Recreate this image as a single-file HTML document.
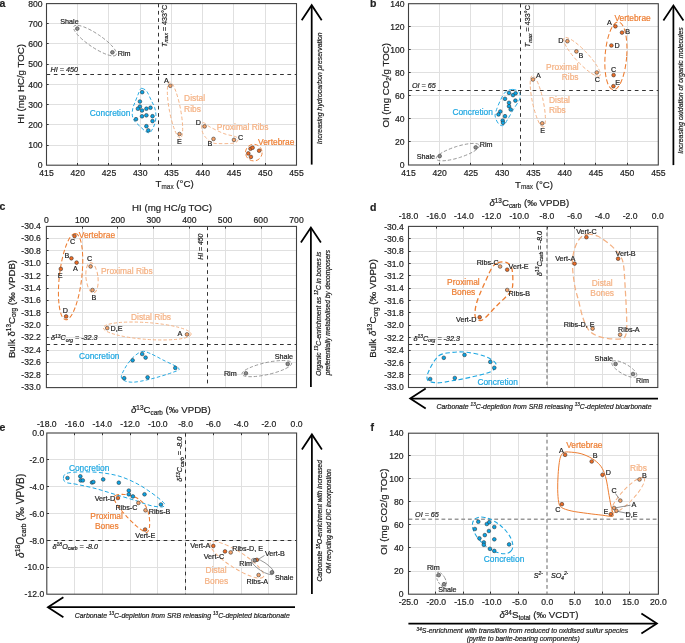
<!DOCTYPE html>
<html><head><meta charset="utf-8"><style>
html,body{margin:0;padding:0;background:#fff;width:685px;height:643px;overflow:hidden}
svg{display:block;font-family:"Liberation Sans", sans-serif;will-change:transform}
</style></head><body>
<svg width="685" height="643" viewBox="0 0 685 643">

<line x1="77.50" y1="3.60" x2="77.50" y2="165.20" stroke="#e0e0e0" stroke-width="1" stroke-linecap="butt"/>
<line x1="108.50" y1="3.60" x2="108.50" y2="165.20" stroke="#e0e0e0" stroke-width="1" stroke-linecap="butt"/>
<line x1="140.50" y1="3.60" x2="140.50" y2="165.20" stroke="#e0e0e0" stroke-width="1" stroke-linecap="butt"/>
<line x1="171.50" y1="3.60" x2="171.50" y2="165.20" stroke="#e0e0e0" stroke-width="1" stroke-linecap="butt"/>
<line x1="202.50" y1="3.60" x2="202.50" y2="165.20" stroke="#e0e0e0" stroke-width="1" stroke-linecap="butt"/>
<line x1="233.50" y1="3.60" x2="233.50" y2="165.20" stroke="#e0e0e0" stroke-width="1" stroke-linecap="butt"/>
<line x1="265.50" y1="3.60" x2="265.50" y2="165.20" stroke="#e0e0e0" stroke-width="1" stroke-linecap="butt"/>
<line x1="46.50" y1="145.50" x2="296.50" y2="145.50" stroke="#e0e0e0" stroke-width="1" stroke-linecap="butt"/>
<line x1="46.50" y1="124.50" x2="296.50" y2="124.50" stroke="#e0e0e0" stroke-width="1" stroke-linecap="butt"/>
<line x1="46.50" y1="104.50" x2="296.50" y2="104.50" stroke="#e0e0e0" stroke-width="1" stroke-linecap="butt"/>
<line x1="46.50" y1="84.50" x2="296.50" y2="84.50" stroke="#e0e0e0" stroke-width="1" stroke-linecap="butt"/>
<line x1="46.50" y1="64.50" x2="296.50" y2="64.50" stroke="#e0e0e0" stroke-width="1" stroke-linecap="butt"/>
<line x1="46.50" y1="43.50" x2="296.50" y2="43.50" stroke="#e0e0e0" stroke-width="1" stroke-linecap="butt"/>
<line x1="46.50" y1="23.50" x2="296.50" y2="23.50" stroke="#e0e0e0" stroke-width="1" stroke-linecap="butt"/>
<text x="46.50" y="175.60" font-size="8.6" fill="#222" text-anchor="middle" stroke="#222" stroke-width="0.2"><tspan>415</tspan></text>
<text x="77.75" y="175.60" font-size="8.6" fill="#222" text-anchor="middle" stroke="#222" stroke-width="0.2"><tspan>420</tspan></text>
<text x="109.00" y="175.60" font-size="8.6" fill="#222" text-anchor="middle" stroke="#222" stroke-width="0.2"><tspan>425</tspan></text>
<text x="140.25" y="175.60" font-size="8.6" fill="#222" text-anchor="middle" stroke="#222" stroke-width="0.2"><tspan>430</tspan></text>
<text x="171.50" y="175.60" font-size="8.6" fill="#222" text-anchor="middle" stroke="#222" stroke-width="0.2"><tspan>435</tspan></text>
<text x="202.75" y="175.60" font-size="8.6" fill="#222" text-anchor="middle" stroke="#222" stroke-width="0.2"><tspan>440</tspan></text>
<text x="234.00" y="175.60" font-size="8.6" fill="#222" text-anchor="middle" stroke="#222" stroke-width="0.2"><tspan>445</tspan></text>
<text x="265.25" y="175.60" font-size="8.6" fill="#222" text-anchor="middle" stroke="#222" stroke-width="0.2"><tspan>450</tspan></text>
<text x="296.50" y="175.60" font-size="8.6" fill="#222" text-anchor="middle" stroke="#222" stroke-width="0.2"><tspan>455</tspan></text>
<text x="42.60" y="168.30" font-size="8.6" fill="#222" text-anchor="end" stroke="#222" stroke-width="0.2"><tspan>0</tspan></text>
<text x="42.60" y="148.10" font-size="8.6" fill="#222" text-anchor="end" stroke="#222" stroke-width="0.2"><tspan>100</tspan></text>
<text x="42.60" y="127.90" font-size="8.6" fill="#222" text-anchor="end" stroke="#222" stroke-width="0.2"><tspan>200</tspan></text>
<text x="42.60" y="107.70" font-size="8.6" fill="#222" text-anchor="end" stroke="#222" stroke-width="0.2"><tspan>300</tspan></text>
<text x="42.60" y="87.50" font-size="8.6" fill="#222" text-anchor="end" stroke="#222" stroke-width="0.2"><tspan>400</tspan></text>
<text x="42.60" y="67.30" font-size="8.6" fill="#222" text-anchor="end" stroke="#222" stroke-width="0.2"><tspan>500</tspan></text>
<text x="42.60" y="47.10" font-size="8.6" fill="#222" text-anchor="end" stroke="#222" stroke-width="0.2"><tspan>600</tspan></text>
<text x="42.60" y="26.90" font-size="8.6" fill="#222" text-anchor="end" stroke="#222" stroke-width="0.2"><tspan>700</tspan></text>
<text x="42.60" y="6.70" font-size="8.6" fill="#222" text-anchor="end" stroke="#222" stroke-width="0.2"><tspan>800</tspan></text>
<text x="24.00" y="83.90" font-size="9.7" fill="#222" text-anchor="middle" transform="rotate(-90 24.00 83.90)" stroke="#222" stroke-width="0.2"><tspan>HI (mg HC/g TOC)</tspan></text>
<text x="155.6" y="187.3" font-size="9.7" fill="#222" stroke="#222" stroke-width="0.2">T<tspan font-size="6.4" dy="1.6" fill="#555">max</tspan><tspan dy="-1.6"> (°C)</tspan></text>
<text x="-0.60" y="6.90" font-size="10.5" fill="#222" text-anchor="start" font-weight="bold" stroke="#222" stroke-width="0.2"><tspan>a</tspan></text>
<line x1="46.50" y1="74.50" x2="296.50" y2="74.50" stroke="#333" stroke-width="1" stroke-dasharray="3.7,3.6" stroke-linecap="butt"/>
<line x1="158.50" y1="3.60" x2="158.50" y2="165.20" stroke="#333" stroke-width="1" stroke-dasharray="3.7,3.6" stroke-linecap="butt"/>
<text x="50.60" y="72.00" font-size="7.2" fill="#222" text-anchor="start" font-style="italic" stroke="#222" stroke-width="0.2"><tspan>HI = 450</tspan></text>
<text x="167.0" y="25.9" font-size="7.2" fill="#222" text-anchor="middle" transform="rotate(-90 167.0 25.9)" stroke="#222" stroke-width="0.2"><tspan font-style="italic">T</tspan><tspan font-style="italic" font-size="5" dy="1.2">max</tspan><tspan dy="-1.2"> = 433°C</tspan></text>
<ellipse cx="95.00" cy="40.60" rx="25.50" ry="6.80" transform="rotate(34.00 95.00 40.60)" fill="none" stroke="#8a8a8a" stroke-width="0.8" stroke-dasharray="3.4,2"/>
<path d="M142.20,88.40 C143.30,88.72 145.28,89.38 146.80,91.40 C148.32,93.42 150.00,97.82 151.30,100.50 C152.60,103.18 153.83,105.17 154.60,107.50 C155.37,109.83 155.77,112.17 155.90,114.50 C156.03,116.83 155.82,119.38 155.40,121.50 C154.98,123.62 154.33,125.35 153.40,127.20 C152.47,129.05 151.10,131.90 149.80,132.60 C148.50,133.30 147.30,132.50 145.60,131.40 C143.90,130.30 141.50,127.80 139.60,126.00 C137.70,124.20 135.42,122.40 134.20,120.60 C132.98,118.80 132.53,117.25 132.30,115.20 C132.07,113.15 132.32,110.53 132.80,108.30 C133.28,106.07 134.30,104.15 135.20,101.80 C136.10,99.45 137.37,96.25 138.20,94.20 C139.03,92.15 139.53,90.47 140.20,89.50 C140.87,88.53 141.10,88.08 142.20,88.40Z" fill="none" stroke="#1ea7e1" stroke-width="0.95" stroke-dasharray="3.5,2.2"/>
<ellipse cx="175.00" cy="110.00" rx="28.50" ry="5.60" transform="rotate(79.20 175.00 110.00)" fill="none" stroke="#f4b183" stroke-width="0.9" stroke-dasharray="3.5,2.2"/>
<path d="M203.00,122.60 C204.37,122.27 206.50,125.17 210.00,127.00 C213.50,128.83 219.62,131.93 224.00,133.60 C228.38,135.27 234.05,135.77 236.30,137.00 C238.55,138.23 238.05,139.97 237.50,141.00 C236.95,142.03 235.75,142.77 233.00,143.20 C230.25,143.63 224.50,143.70 221.00,143.60 C217.50,143.50 214.75,143.87 212.00,142.60 C209.25,141.33 206.20,138.27 204.50,136.00 C202.80,133.73 202.05,131.23 201.80,129.00 C201.55,126.77 201.63,122.93 203.00,122.60Z" fill="none" stroke="#f4b183" stroke-width="0.9" stroke-dasharray="3.5,2.2"/>
<ellipse cx="253.80" cy="152.60" rx="8.30" ry="8.30" transform="rotate(0.00 253.80 152.60)" fill="none" stroke="#ed7d31" stroke-width="0.9" stroke-dasharray="4.2,2.4"/>
<circle cx="77.30" cy="28.60" r="1.85" fill="#8c8c8c" stroke="#303030" stroke-width="0.55"/>
<circle cx="112.40" cy="52.30" r="1.85" fill="#8c8c8c" stroke="#303030" stroke-width="0.55"/>
<circle cx="142.20" cy="92.20" r="1.85" fill="#0aa3e4" stroke="#303030" stroke-width="0.55"/>
<circle cx="139.90" cy="101.50" r="1.85" fill="#0aa3e4" stroke="#303030" stroke-width="0.55"/>
<circle cx="139.90" cy="106.60" r="1.85" fill="#0aa3e4" stroke="#303030" stroke-width="0.55"/>
<circle cx="137.90" cy="108.70" r="1.85" fill="#0aa3e4" stroke="#303030" stroke-width="0.55"/>
<circle cx="142.00" cy="110.50" r="1.85" fill="#0aa3e4" stroke="#303030" stroke-width="0.55"/>
<circle cx="146.40" cy="108.70" r="1.85" fill="#0aa3e4" stroke="#303030" stroke-width="0.55"/>
<circle cx="150.50" cy="107.70" r="1.85" fill="#0aa3e4" stroke="#303030" stroke-width="0.55"/>
<circle cx="142.00" cy="116.30" r="1.85" fill="#0aa3e4" stroke="#303030" stroke-width="0.55"/>
<circle cx="146.40" cy="115.30" r="1.85" fill="#0aa3e4" stroke="#303030" stroke-width="0.55"/>
<circle cx="152.50" cy="116.20" r="1.85" fill="#0aa3e4" stroke="#303030" stroke-width="0.55"/>
<circle cx="136.00" cy="119.20" r="1.85" fill="#0aa3e4" stroke="#303030" stroke-width="0.55"/>
<circle cx="152.50" cy="121.10" r="1.85" fill="#0aa3e4" stroke="#303030" stroke-width="0.55"/>
<circle cx="146.40" cy="126.20" r="1.85" fill="#0aa3e4" stroke="#303030" stroke-width="0.55"/>
<circle cx="148.30" cy="130.40" r="1.85" fill="#0aa3e4" stroke="#303030" stroke-width="0.55"/>
<circle cx="170.30" cy="85.80" r="1.85" fill="#f4a46c" stroke="#303030" stroke-width="0.55"/>
<circle cx="179.50" cy="134.00" r="1.85" fill="#f4a46c" stroke="#303030" stroke-width="0.55"/>
<circle cx="204.60" cy="126.40" r="1.85" fill="#f4a46c" stroke="#303030" stroke-width="0.55"/>
<circle cx="213.50" cy="138.90" r="1.85" fill="#f4a46c" stroke="#303030" stroke-width="0.55"/>
<circle cx="234.00" cy="139.90" r="1.85" fill="#f4a46c" stroke="#303030" stroke-width="0.55"/>
<circle cx="250.50" cy="148.70" r="1.85" fill="#eb6c26" stroke="#303030" stroke-width="0.55"/>
<circle cx="252.60" cy="147.70" r="1.85" fill="#eb6c26" stroke="#303030" stroke-width="0.55"/>
<circle cx="259.10" cy="150.70" r="1.85" fill="#eb6c26" stroke="#303030" stroke-width="0.55"/>
<circle cx="248.30" cy="153.40" r="1.85" fill="#eb6c26" stroke="#303030" stroke-width="0.55"/>
<circle cx="250.90" cy="156.90" r="1.85" fill="#eb6c26" stroke="#303030" stroke-width="0.55"/>
<text x="69.50" y="24.00" font-size="7.2" fill="#222" text-anchor="middle" stroke="#222" stroke-width="0.2"><tspan>Shale</tspan></text>
<text x="117.70" y="56.40" font-size="7.2" fill="#222" text-anchor="start" stroke="#222" stroke-width="0.2"><tspan>Rim</tspan></text>
<text x="89.80" y="115.60" font-size="8.4" fill="#1ea7e1" text-anchor="start" stroke="#1ea7e1" stroke-width="0.2"><tspan>Concretion</tspan></text>
<text x="166.30" y="82.60" font-size="7.2" fill="#222" text-anchor="middle" stroke="#222" stroke-width="0.2"><tspan>A</tspan></text>
<text x="179.50" y="143.70" font-size="7.2" fill="#222" text-anchor="middle" stroke="#222" stroke-width="0.2"><tspan>E</tspan></text>
<text x="184.10" y="101.00" font-size="8.4" fill="#f4b183" text-anchor="start" stroke="#f4b183" stroke-width="0.2"><tspan>Distal</tspan></text>
<text x="184.10" y="111.80" font-size="8.4" fill="#f4b183" text-anchor="start" stroke="#f4b183" stroke-width="0.2"><tspan>Ribs</tspan></text>
<text x="198.40" y="124.50" font-size="7.2" fill="#222" text-anchor="middle" stroke="#222" stroke-width="0.2"><tspan>D</tspan></text>
<text x="209.90" y="146.20" font-size="7.2" fill="#222" text-anchor="middle" stroke="#222" stroke-width="0.2"><tspan>B</tspan></text>
<text x="240.70" y="139.60" font-size="7.2" fill="#222" text-anchor="middle" stroke="#222" stroke-width="0.2"><tspan>C</tspan></text>
<text x="216.80" y="130.20" font-size="8.4" fill="#f4b183" text-anchor="start" stroke="#f4b183" stroke-width="0.2"><tspan>Proximal Ribs</tspan></text>
<text x="258.10" y="144.50" font-size="8.4" fill="#ed7d31" text-anchor="start" stroke="#ed7d31" stroke-width="0.2"><tspan>Vertebrae</tspan></text>
<line x1="311.70" y1="164.60" x2="311.70" y2="6.00" stroke="#000" stroke-width="1.75" stroke-linecap="butt"/>
<polyline points="301.70,20.20 311.70,5.20 321.70,20.20" fill="none" stroke="#000" stroke-width="1.75" stroke-linejoin="miter" stroke-miterlimit="10"/>
<text x="321.60" y="88.20" font-size="6.9" fill="#222" text-anchor="middle" font-style="italic" transform="rotate(-90 321.60 88.20)" stroke="#222" stroke-width="0.2"><tspan>Increasing hydrocarbon preservation</tspan></text>
<line x1="439.50" y1="3.70" x2="439.50" y2="165.00" stroke="#e0e0e0" stroke-width="1" stroke-linecap="butt"/>
<line x1="470.50" y1="3.70" x2="470.50" y2="165.00" stroke="#e0e0e0" stroke-width="1" stroke-linecap="butt"/>
<line x1="502.50" y1="3.70" x2="502.50" y2="165.00" stroke="#e0e0e0" stroke-width="1" stroke-linecap="butt"/>
<line x1="533.50" y1="3.70" x2="533.50" y2="165.00" stroke="#e0e0e0" stroke-width="1" stroke-linecap="butt"/>
<line x1="564.50" y1="3.70" x2="564.50" y2="165.00" stroke="#e0e0e0" stroke-width="1" stroke-linecap="butt"/>
<line x1="595.50" y1="3.70" x2="595.50" y2="165.00" stroke="#e0e0e0" stroke-width="1" stroke-linecap="butt"/>
<line x1="627.50" y1="3.70" x2="627.50" y2="165.00" stroke="#e0e0e0" stroke-width="1" stroke-linecap="butt"/>
<line x1="408.50" y1="141.50" x2="658.30" y2="141.50" stroke="#e0e0e0" stroke-width="1" stroke-linecap="butt"/>
<line x1="408.50" y1="118.50" x2="658.30" y2="118.50" stroke="#e0e0e0" stroke-width="1" stroke-linecap="butt"/>
<line x1="408.50" y1="95.50" x2="658.30" y2="95.50" stroke="#e0e0e0" stroke-width="1" stroke-linecap="butt"/>
<line x1="408.50" y1="72.50" x2="658.30" y2="72.50" stroke="#e0e0e0" stroke-width="1" stroke-linecap="butt"/>
<line x1="408.50" y1="49.50" x2="658.30" y2="49.50" stroke="#e0e0e0" stroke-width="1" stroke-linecap="butt"/>
<line x1="408.50" y1="26.50" x2="658.30" y2="26.50" stroke="#e0e0e0" stroke-width="1" stroke-linecap="butt"/>
<text x="408.50" y="175.60" font-size="8.6" fill="#222" text-anchor="middle" stroke="#222" stroke-width="0.2"><tspan>415</tspan></text>
<text x="439.73" y="175.60" font-size="8.6" fill="#222" text-anchor="middle" stroke="#222" stroke-width="0.2"><tspan>420</tspan></text>
<text x="470.95" y="175.60" font-size="8.6" fill="#222" text-anchor="middle" stroke="#222" stroke-width="0.2"><tspan>425</tspan></text>
<text x="502.17" y="175.60" font-size="8.6" fill="#222" text-anchor="middle" stroke="#222" stroke-width="0.2"><tspan>430</tspan></text>
<text x="533.40" y="175.60" font-size="8.6" fill="#222" text-anchor="middle" stroke="#222" stroke-width="0.2"><tspan>435</tspan></text>
<text x="564.62" y="175.60" font-size="8.6" fill="#222" text-anchor="middle" stroke="#222" stroke-width="0.2"><tspan>440</tspan></text>
<text x="595.85" y="175.60" font-size="8.6" fill="#222" text-anchor="middle" stroke="#222" stroke-width="0.2"><tspan>445</tspan></text>
<text x="627.07" y="175.60" font-size="8.6" fill="#222" text-anchor="middle" stroke="#222" stroke-width="0.2"><tspan>450</tspan></text>
<text x="658.30" y="175.60" font-size="8.6" fill="#222" text-anchor="middle" stroke="#222" stroke-width="0.2"><tspan>455</tspan></text>
<text x="404.60" y="168.10" font-size="8.6" fill="#222" text-anchor="end" stroke="#222" stroke-width="0.2"><tspan>0</tspan></text>
<text x="404.60" y="145.06" font-size="8.6" fill="#222" text-anchor="end" stroke="#222" stroke-width="0.2"><tspan>20</tspan></text>
<text x="404.60" y="122.01" font-size="8.6" fill="#222" text-anchor="end" stroke="#222" stroke-width="0.2"><tspan>40</tspan></text>
<text x="404.60" y="98.97" font-size="8.6" fill="#222" text-anchor="end" stroke="#222" stroke-width="0.2"><tspan>60</tspan></text>
<text x="404.60" y="75.93" font-size="8.6" fill="#222" text-anchor="end" stroke="#222" stroke-width="0.2"><tspan>80</tspan></text>
<text x="404.60" y="52.89" font-size="8.6" fill="#222" text-anchor="end" stroke="#222" stroke-width="0.2"><tspan>100</tspan></text>
<text x="404.60" y="29.84" font-size="8.6" fill="#222" text-anchor="end" stroke="#222" stroke-width="0.2"><tspan>120</tspan></text>
<text x="404.60" y="6.80" font-size="8.6" fill="#222" text-anchor="end" stroke="#222" stroke-width="0.2"><tspan>140</tspan></text>
<text x="389.1" y="85.3" font-size="9.7" fill="#222" text-anchor="middle" transform="rotate(-90 389.1 85.3)" stroke="#222" stroke-width="0.2">OI (mg CO<tspan font-size="6.4" dy="1.8">2</tspan><tspan dy="-1.8">/g TOC)</tspan></text>
<text x="515" y="187.6" font-size="9.7" fill="#222" stroke="#222" stroke-width="0.2">T<tspan font-size="6.4" dy="1.6" fill="#555">max</tspan><tspan dy="-1.6"> (°C)</tspan></text>
<text x="369.90" y="7.20" font-size="10.5" fill="#222" text-anchor="start" font-weight="bold" stroke="#222" stroke-width="0.2"><tspan>b</tspan></text>
<line x1="408.50" y1="90.50" x2="658.30" y2="90.50" stroke="#333" stroke-width="1" stroke-dasharray="3.7,3.6" stroke-linecap="butt"/>
<line x1="520.50" y1="3.70" x2="520.50" y2="165.00" stroke="#333" stroke-width="1" stroke-dasharray="3.7,3.6" stroke-linecap="butt"/>
<text x="412.00" y="87.60" font-size="7.2" fill="#222" text-anchor="start" font-style="italic" stroke="#222" stroke-width="0.2"><tspan>OI = 65</tspan></text>
<text x="530.4" y="26.2" font-size="7.2" fill="#222" text-anchor="middle" transform="rotate(-90 530.4 26.2)" stroke="#222" stroke-width="0.2"><tspan font-style="italic">T</tspan><tspan font-style="italic" font-size="5" dy="1.2">max</tspan><tspan dy="-1.2"> = 433°C</tspan></text>
<ellipse cx="457.80" cy="152.10" rx="22.60" ry="5.70" transform="rotate(-17.50 457.80 152.10)" fill="none" stroke="#8a8a8a" stroke-width="0.8" stroke-dasharray="3.4,2"/>
<path d="M512.60,89.40 C514.80,89.33 517.35,90.53 518.60,91.60 C519.85,92.67 520.03,94.30 520.10,95.80 C520.17,97.30 520.13,98.30 519.00,100.60 C517.87,102.90 515.15,106.55 513.30,109.60 C511.45,112.65 509.55,116.27 507.90,118.90 C506.25,121.53 504.95,124.58 503.40,125.40 C501.85,126.22 499.95,125.20 498.60,123.80 C497.25,122.40 495.75,119.03 495.30,117.00 C494.85,114.97 495.10,114.27 495.90,111.60 C496.70,108.93 498.52,104.27 500.10,101.00 C501.68,97.73 503.32,93.93 505.40,92.00 C507.48,90.07 510.40,89.47 512.60,89.40Z" fill="none" stroke="#1ea7e1" stroke-width="0.95" stroke-dasharray="4,2.4"/>
<ellipse cx="537.80" cy="101.40" rx="26.30" ry="5.40" transform="rotate(78.00 537.80 101.40)" fill="none" stroke="#f4b183" stroke-width="0.9" stroke-dasharray="3.5,2.2"/>
<ellipse cx="582.00" cy="56.90" rx="26.00" ry="6.20" transform="rotate(46.80 582.00 56.90)" fill="none" stroke="#f4b183" stroke-width="0.9" stroke-dasharray="3.5,2.2"/>
<ellipse cx="615.90" cy="55.90" rx="10.80" ry="34.00" transform="rotate(4.30 615.90 55.90)" fill="none" stroke="#ed7d31" stroke-width="1.05" stroke-dasharray="5,2.6"/>
<circle cx="439.70" cy="156.10" r="1.85" fill="#8c8c8c" stroke="#303030" stroke-width="0.55"/>
<circle cx="475.70" cy="147.40" r="1.85" fill="#8c8c8c" stroke="#303030" stroke-width="0.55"/>
<circle cx="509.00" cy="92.90" r="1.85" fill="#0aa3e4" stroke="#303030" stroke-width="0.55"/>
<circle cx="513.00" cy="95.10" r="1.85" fill="#0aa3e4" stroke="#303030" stroke-width="0.55"/>
<circle cx="515.60" cy="93.30" r="1.85" fill="#0aa3e4" stroke="#303030" stroke-width="0.55"/>
<circle cx="505.00" cy="98.80" r="1.85" fill="#0aa3e4" stroke="#303030" stroke-width="0.55"/>
<circle cx="515.40" cy="100.60" r="1.85" fill="#0aa3e4" stroke="#303030" stroke-width="0.55"/>
<circle cx="509.00" cy="102.80" r="1.85" fill="#0aa3e4" stroke="#303030" stroke-width="0.55"/>
<circle cx="509.00" cy="106.20" r="1.85" fill="#0aa3e4" stroke="#303030" stroke-width="0.55"/>
<circle cx="510.70" cy="109.50" r="1.85" fill="#0aa3e4" stroke="#303030" stroke-width="0.55"/>
<circle cx="500.30" cy="111.50" r="1.85" fill="#0aa3e4" stroke="#303030" stroke-width="0.55"/>
<circle cx="498.50" cy="114.40" r="1.85" fill="#0aa3e4" stroke="#303030" stroke-width="0.55"/>
<circle cx="505.00" cy="116.20" r="1.85" fill="#0aa3e4" stroke="#303030" stroke-width="0.55"/>
<circle cx="502.70" cy="120.60" r="1.85" fill="#0aa3e4" stroke="#303030" stroke-width="0.55"/>
<circle cx="503.00" cy="122.80" r="1.85" fill="#0aa3e4" stroke="#303030" stroke-width="0.55"/>
<circle cx="532.90" cy="79.50" r="1.85" fill="#f4a46c" stroke="#303030" stroke-width="0.55"/>
<circle cx="542.20" cy="123.30" r="1.85" fill="#f4a46c" stroke="#303030" stroke-width="0.55"/>
<circle cx="567.40" cy="41.20" r="1.85" fill="#f4a46c" stroke="#303030" stroke-width="0.55"/>
<circle cx="576.40" cy="51.40" r="1.85" fill="#f4a46c" stroke="#303030" stroke-width="0.55"/>
<circle cx="596.80" cy="72.50" r="1.85" fill="#f4a46c" stroke="#303030" stroke-width="0.55"/>
<circle cx="615.40" cy="26.30" r="1.85" fill="#eb6c26" stroke="#303030" stroke-width="0.55"/>
<circle cx="622.00" cy="32.60" r="1.85" fill="#eb6c26" stroke="#303030" stroke-width="0.55"/>
<circle cx="611.40" cy="45.50" r="1.85" fill="#eb6c26" stroke="#303030" stroke-width="0.55"/>
<circle cx="613.60" cy="75.10" r="1.85" fill="#eb6c26" stroke="#303030" stroke-width="0.55"/>
<circle cx="613.40" cy="86.20" r="1.85" fill="#eb6c26" stroke="#303030" stroke-width="0.55"/>
<text x="435.10" y="158.90" font-size="7.2" fill="#222" text-anchor="end" stroke="#222" stroke-width="0.2"><tspan>Shale</tspan></text>
<text x="479.70" y="146.90" font-size="7.2" fill="#222" text-anchor="start" stroke="#222" stroke-width="0.2"><tspan>Rim</tspan></text>
<text x="452.40" y="114.60" font-size="8.4" fill="#1ea7e1" text-anchor="start" stroke="#1ea7e1" stroke-width="0.2"><tspan>Concretion</tspan></text>
<text x="538.40" y="77.60" font-size="7.2" fill="#222" text-anchor="middle" stroke="#222" stroke-width="0.2"><tspan>A</tspan></text>
<text x="542.70" y="132.50" font-size="7.2" fill="#222" text-anchor="middle" stroke="#222" stroke-width="0.2"><tspan>E</tspan></text>
<text x="549.00" y="102.50" font-size="8.4" fill="#f4b183" text-anchor="start" stroke="#f4b183" stroke-width="0.2"><tspan>Distal</tspan></text>
<text x="549.00" y="113.00" font-size="8.4" fill="#f4b183" text-anchor="start" stroke="#f4b183" stroke-width="0.2"><tspan>Ribs</tspan></text>
<text x="560.90" y="43.00" font-size="7.2" fill="#222" text-anchor="middle" stroke="#222" stroke-width="0.2"><tspan>D</tspan></text>
<text x="580.90" y="58.10" font-size="7.2" fill="#222" text-anchor="middle" stroke="#222" stroke-width="0.2"><tspan>B</tspan></text>
<text x="597.30" y="81.80" font-size="7.2" fill="#222" text-anchor="middle" stroke="#222" stroke-width="0.2"><tspan>C</tspan></text>
<text x="578.70" y="70.00" font-size="8.4" fill="#f4b183" text-anchor="end" stroke="#f4b183" stroke-width="0.2"><tspan>Proximal</tspan></text>
<text x="578.50" y="79.60" font-size="8.4" fill="#f4b183" text-anchor="end" stroke="#f4b183" stroke-width="0.2"><tspan>Ribs</tspan></text>
<text x="609.30" y="25.40" font-size="7.2" fill="#222" text-anchor="middle" stroke="#222" stroke-width="0.2"><tspan>A</tspan></text>
<text x="627.70" y="33.80" font-size="7.2" fill="#222" text-anchor="middle" stroke="#222" stroke-width="0.2"><tspan>B</tspan></text>
<text x="617.10" y="48.10" font-size="7.2" fill="#222" text-anchor="middle" stroke="#222" stroke-width="0.2"><tspan>D</tspan></text>
<text x="613.60" y="72.00" font-size="7.2" fill="#222" text-anchor="middle" stroke="#222" stroke-width="0.2"><tspan>C</tspan></text>
<text x="617.70" y="84.70" font-size="7.2" fill="#222" text-anchor="middle" stroke="#222" stroke-width="0.2"><tspan>E</tspan></text>
<text x="614.40" y="20.70" font-size="8.4" fill="#ed7d31" text-anchor="start" stroke="#ed7d31" stroke-width="0.2"><tspan>Vertebrae</tspan></text>
<line x1="673.40" y1="165.10" x2="673.40" y2="6.40" stroke="#000" stroke-width="1.75" stroke-linecap="butt"/>
<polyline points="663.40,20.60 673.40,5.60 683.40,20.60" fill="none" stroke="#000" stroke-width="1.75" stroke-linejoin="miter" stroke-miterlimit="10"/>
<text x="683.40" y="90.50" font-size="6.9" fill="#222" text-anchor="middle" font-style="italic" transform="rotate(-90 683.40 90.50)" stroke="#222" stroke-width="0.2"><tspan>Increasing oxidation of organic molecules</tspan></text>
<line x1="82.50" y1="226.40" x2="82.50" y2="387.20" stroke="#e0e0e0" stroke-width="1" stroke-linecap="butt"/>
<line x1="117.50" y1="226.40" x2="117.50" y2="387.20" stroke="#e0e0e0" stroke-width="1" stroke-linecap="butt"/>
<line x1="153.50" y1="226.40" x2="153.50" y2="387.20" stroke="#e0e0e0" stroke-width="1" stroke-linecap="butt"/>
<line x1="189.50" y1="226.40" x2="189.50" y2="387.20" stroke="#e0e0e0" stroke-width="1" stroke-linecap="butt"/>
<line x1="225.50" y1="226.40" x2="225.50" y2="387.20" stroke="#e0e0e0" stroke-width="1" stroke-linecap="butt"/>
<line x1="261.50" y1="226.40" x2="261.50" y2="387.20" stroke="#e0e0e0" stroke-width="1" stroke-linecap="butt"/>
<line x1="46.40" y1="238.50" x2="296.50" y2="238.50" stroke="#e0e0e0" stroke-width="1" stroke-linecap="butt"/>
<line x1="46.40" y1="250.50" x2="296.50" y2="250.50" stroke="#e0e0e0" stroke-width="1" stroke-linecap="butt"/>
<line x1="46.40" y1="263.50" x2="296.50" y2="263.50" stroke="#e0e0e0" stroke-width="1" stroke-linecap="butt"/>
<line x1="46.40" y1="275.50" x2="296.50" y2="275.50" stroke="#e0e0e0" stroke-width="1" stroke-linecap="butt"/>
<line x1="46.40" y1="288.50" x2="296.50" y2="288.50" stroke="#e0e0e0" stroke-width="1" stroke-linecap="butt"/>
<line x1="46.40" y1="300.50" x2="296.50" y2="300.50" stroke="#e0e0e0" stroke-width="1" stroke-linecap="butt"/>
<line x1="46.40" y1="312.50" x2="296.50" y2="312.50" stroke="#e0e0e0" stroke-width="1" stroke-linecap="butt"/>
<line x1="46.40" y1="325.50" x2="296.50" y2="325.50" stroke="#e0e0e0" stroke-width="1" stroke-linecap="butt"/>
<line x1="46.40" y1="337.50" x2="296.50" y2="337.50" stroke="#e0e0e0" stroke-width="1" stroke-linecap="butt"/>
<line x1="46.40" y1="350.50" x2="296.50" y2="350.50" stroke="#e0e0e0" stroke-width="1" stroke-linecap="butt"/>
<line x1="46.40" y1="362.50" x2="296.50" y2="362.50" stroke="#e0e0e0" stroke-width="1" stroke-linecap="butt"/>
<line x1="46.40" y1="374.50" x2="296.50" y2="374.50" stroke="#e0e0e0" stroke-width="1" stroke-linecap="butt"/>
<text x="46.40" y="222.90" font-size="8.6" fill="#222" text-anchor="middle" stroke="#222" stroke-width="0.2"><tspan>0</tspan></text>
<text x="82.13" y="222.90" font-size="8.6" fill="#222" text-anchor="middle" stroke="#222" stroke-width="0.2"><tspan>100</tspan></text>
<text x="117.86" y="222.90" font-size="8.6" fill="#222" text-anchor="middle" stroke="#222" stroke-width="0.2"><tspan>200</tspan></text>
<text x="153.59" y="222.90" font-size="8.6" fill="#222" text-anchor="middle" stroke="#222" stroke-width="0.2"><tspan>300</tspan></text>
<text x="189.31" y="222.90" font-size="8.6" fill="#222" text-anchor="middle" stroke="#222" stroke-width="0.2"><tspan>400</tspan></text>
<text x="225.04" y="222.90" font-size="8.6" fill="#222" text-anchor="middle" stroke="#222" stroke-width="0.2"><tspan>500</tspan></text>
<text x="260.77" y="222.90" font-size="8.6" fill="#222" text-anchor="middle" stroke="#222" stroke-width="0.2"><tspan>600</tspan></text>
<text x="296.50" y="222.90" font-size="8.6" fill="#222" text-anchor="middle" stroke="#222" stroke-width="0.2"><tspan>700</tspan></text>
<text x="40.90" y="229.10" font-size="8.6" fill="#222" text-anchor="end" stroke="#222" stroke-width="0.2"><tspan>-30.4</tspan></text>
<text x="40.90" y="241.47" font-size="8.6" fill="#222" text-anchor="end" stroke="#222" stroke-width="0.2"><tspan>-30.6</tspan></text>
<text x="40.90" y="253.84" font-size="8.6" fill="#222" text-anchor="end" stroke="#222" stroke-width="0.2"><tspan>-30.8</tspan></text>
<text x="40.90" y="266.21" font-size="8.6" fill="#222" text-anchor="end" stroke="#222" stroke-width="0.2"><tspan>-31.0</tspan></text>
<text x="40.90" y="278.58" font-size="8.6" fill="#222" text-anchor="end" stroke="#222" stroke-width="0.2"><tspan>-31.2</tspan></text>
<text x="40.90" y="290.95" font-size="8.6" fill="#222" text-anchor="end" stroke="#222" stroke-width="0.2"><tspan>-31.4</tspan></text>
<text x="40.90" y="303.32" font-size="8.6" fill="#222" text-anchor="end" stroke="#222" stroke-width="0.2"><tspan>-31.6</tspan></text>
<text x="40.90" y="315.68" font-size="8.6" fill="#222" text-anchor="end" stroke="#222" stroke-width="0.2"><tspan>-31.8</tspan></text>
<text x="40.90" y="328.05" font-size="8.6" fill="#222" text-anchor="end" stroke="#222" stroke-width="0.2"><tspan>-32.0</tspan></text>
<text x="40.90" y="340.42" font-size="8.6" fill="#222" text-anchor="end" stroke="#222" stroke-width="0.2"><tspan>-32.2</tspan></text>
<text x="40.90" y="352.79" font-size="8.6" fill="#222" text-anchor="end" stroke="#222" stroke-width="0.2"><tspan>-32.4</tspan></text>
<text x="40.90" y="365.16" font-size="8.6" fill="#222" text-anchor="end" stroke="#222" stroke-width="0.2"><tspan>-32.6</tspan></text>
<text x="40.90" y="377.53" font-size="8.6" fill="#222" text-anchor="end" stroke="#222" stroke-width="0.2"><tspan>-32.8</tspan></text>
<text x="40.90" y="389.90" font-size="8.6" fill="#222" text-anchor="end" stroke="#222" stroke-width="0.2"><tspan>-33.0</tspan></text>
<text x="14.6" y="309" font-size="9.7" fill="#222" text-anchor="middle" transform="rotate(-90 14.6 309)" stroke="#222" stroke-width="0.2">Bulk δ<tspan font-size="6.4" dy="-3.4">13</tspan><tspan dy="3.4">C</tspan><tspan font-size="6.4" dy="1.8">org</tspan><tspan dy="-1.8"> (‰ VPDB)</tspan></text>
<text x="172.00" y="211.40" font-size="9.7" fill="#222" text-anchor="middle" stroke="#222" stroke-width="0.2"><tspan>HI (mg HC/g TOC)</tspan></text>
<text x="-0.60" y="209.90" font-size="10.5" fill="#222" text-anchor="start" font-weight="bold" stroke="#222" stroke-width="0.2"><tspan>c</tspan></text>
<line x1="46.40" y1="344.50" x2="296.50" y2="344.50" stroke="#333" stroke-width="1" stroke-dasharray="3.7,3.6" stroke-linecap="butt"/>
<line x1="207.50" y1="226.40" x2="207.50" y2="387.20" stroke="#333" stroke-width="1" stroke-dasharray="3.7,3.6" stroke-linecap="butt"/>
<text x="51" y="340.4" font-size="7.2" fill="#222" font-style="italic" stroke="#222" stroke-width="0.2">δ<tspan font-size="5" dy="-2.6">13</tspan><tspan dy="2.6">C</tspan><tspan font-size="5" dy="1.3">org</tspan><tspan dy="-1.3"> = -32.3</tspan></text>
<text x="203.50" y="246.70" font-size="6.9" fill="#222" text-anchor="middle" font-style="italic" transform="rotate(-90 203.50 246.70)" stroke="#222" stroke-width="0.2"><tspan>HI = 450</tspan></text>
<ellipse cx="70.60" cy="276.60" rx="43.40" ry="11.20" transform="rotate(-83.50 70.60 276.60)" fill="none" stroke="#ed7d31" stroke-width="1.05" stroke-dasharray="4.5,2.5"/>
<ellipse cx="92.00" cy="277.80" rx="6.00" ry="15.20" transform="rotate(-6.00 92.00 277.80)" fill="none" stroke="#f4b183" stroke-width="1.0" stroke-dasharray="4,2.4"/>
<ellipse cx="147.20" cy="331.00" rx="44.00" ry="8.40" transform="rotate(4.20 147.20 331.00)" fill="none" stroke="#f4b183" stroke-width="0.95" stroke-dasharray="3.2,2"/>
<path d="M141.50,351.60 C144.50,350.75 146.42,352.00 150.00,353.40 C153.58,354.80 158.20,357.50 163.00,360.00 C167.80,362.50 177.30,366.30 178.80,368.40 C180.30,370.50 176.80,370.80 172.00,372.60 C167.20,374.40 156.77,377.60 150.00,379.20 C143.23,380.80 136.13,382.37 131.40,382.20 C126.67,382.03 122.75,380.40 121.60,378.20 C120.45,376.00 122.77,372.28 124.50,369.00 C126.23,365.72 129.17,361.40 132.00,358.50 C134.83,355.60 138.50,352.45 141.50,351.60Z" fill="none" stroke="#1ea7e1" stroke-width="0.95" stroke-dasharray="3.5,2.2"/>
<ellipse cx="266.80" cy="368.60" rx="25.50" ry="6.00" transform="rotate(-12.70 266.80 368.60)" fill="none" stroke="#8a8a8a" stroke-width="0.8" stroke-dasharray="3.4,2"/>
<circle cx="74.50" cy="236.10" r="1.85" fill="#eb6c26" stroke="#303030" stroke-width="0.55"/>
<circle cx="71.40" cy="258.30" r="1.85" fill="#eb6c26" stroke="#303030" stroke-width="0.55"/>
<circle cx="76.60" cy="262.60" r="1.85" fill="#eb6c26" stroke="#303030" stroke-width="0.55"/>
<circle cx="60.80" cy="268.90" r="1.85" fill="#eb6c26" stroke="#303030" stroke-width="0.55"/>
<circle cx="66.10" cy="316.40" r="1.85" fill="#eb6c26" stroke="#303030" stroke-width="0.55"/>
<circle cx="90.60" cy="266.40" r="1.85" fill="#f4a46c" stroke="#303030" stroke-width="0.55"/>
<circle cx="92.50" cy="290.00" r="1.85" fill="#f4a46c" stroke="#303030" stroke-width="0.55"/>
<circle cx="107.20" cy="328.10" r="1.85" fill="#f4a46c" stroke="#303030" stroke-width="0.55"/>
<circle cx="187.00" cy="334.40" r="1.85" fill="#f4a46c" stroke="#303030" stroke-width="0.55"/>
<circle cx="132.60" cy="360.30" r="1.85" fill="#0aa3e4" stroke="#303030" stroke-width="0.55"/>
<circle cx="142.20" cy="354.00" r="1.85" fill="#0aa3e4" stroke="#303030" stroke-width="0.55"/>
<circle cx="145.60" cy="357.60" r="1.85" fill="#0aa3e4" stroke="#303030" stroke-width="0.55"/>
<circle cx="175.30" cy="367.90" r="1.85" fill="#0aa3e4" stroke="#303030" stroke-width="0.55"/>
<circle cx="124.20" cy="378.20" r="1.85" fill="#0aa3e4" stroke="#303030" stroke-width="0.55"/>
<circle cx="147.60" cy="377.30" r="1.85" fill="#0aa3e4" stroke="#303030" stroke-width="0.55"/>
<circle cx="287.70" cy="363.90" r="1.85" fill="#8c8c8c" stroke="#303030" stroke-width="0.55"/>
<circle cx="245.90" cy="373.30" r="1.85" fill="#8c8c8c" stroke="#303030" stroke-width="0.55"/>
<text x="72.60" y="244.20" font-size="7.2" fill="#222" text-anchor="middle" stroke="#222" stroke-width="0.2"><tspan>C</tspan></text>
<text x="66.90" y="258.00" font-size="7.2" fill="#222" text-anchor="middle" stroke="#222" stroke-width="0.2"><tspan>B</tspan></text>
<text x="75.40" y="270.70" font-size="7.2" fill="#222" text-anchor="middle" stroke="#222" stroke-width="0.2"><tspan>A</tspan></text>
<text x="60.20" y="277.90" font-size="7.2" fill="#222" text-anchor="middle" stroke="#222" stroke-width="0.2"><tspan>E</tspan></text>
<text x="65.40" y="312.50" font-size="7.2" fill="#222" text-anchor="middle" stroke="#222" stroke-width="0.2"><tspan>D</tspan></text>
<text x="78.80" y="238.00" font-size="8.4" fill="#ed7d31" text-anchor="start" stroke="#ed7d31" stroke-width="0.2"><tspan>Vertebrae</tspan></text>
<text x="89.70" y="261.20" font-size="7.2" fill="#222" text-anchor="middle" stroke="#222" stroke-width="0.2"><tspan>C</tspan></text>
<text x="93.80" y="300.20" font-size="7.2" fill="#222" text-anchor="middle" stroke="#222" stroke-width="0.2"><tspan>B</tspan></text>
<text x="101.00" y="274.40" font-size="8.4" fill="#f4b183" text-anchor="start" stroke="#f4b183" stroke-width="0.2"><tspan>Proximal Ribs</tspan></text>
<text x="110.50" y="331.20" font-size="7.2" fill="#222" text-anchor="start" stroke="#222" stroke-width="0.2"><tspan>D,E</tspan></text>
<text x="180.00" y="336.30" font-size="7.2" fill="#222" text-anchor="middle" stroke="#222" stroke-width="0.2"><tspan>A</tspan></text>
<text x="131.00" y="320.20" font-size="8.4" fill="#f4b183" text-anchor="start" stroke="#f4b183" stroke-width="0.2"><tspan>Distal Ribs</tspan></text>
<text x="79.00" y="358.70" font-size="8.4" fill="#1ea7e1" text-anchor="start" stroke="#1ea7e1" stroke-width="0.2"><tspan>Concretion</tspan></text>
<text x="293.10" y="358.80" font-size="7.2" fill="#222" text-anchor="end" stroke="#222" stroke-width="0.2"><tspan>Shale</tspan></text>
<text x="223.90" y="375.90" font-size="7.2" fill="#222" text-anchor="start" stroke="#222" stroke-width="0.2"><tspan>Rim</tspan></text>
<line x1="310.90" y1="386.90" x2="310.90" y2="228.40" stroke="#000" stroke-width="1.75" stroke-linecap="butt"/>
<polyline points="300.90,242.60 310.90,227.60 320.90,242.60" fill="none" stroke="#000" stroke-width="1.75" stroke-linejoin="miter" stroke-miterlimit="10"/>
<text x="320.60" y="313.70" font-size="6.65" fill="#222" text-anchor="middle" font-style="italic" transform="rotate(-90 320.60 313.70)" stroke="#222" stroke-width="0.2"><tspan>Organic </tspan><tspan dy="-2.39" font-size="4.52">13</tspan><tspan dy="2.39">&#8203;</tspan><tspan>C-enrichment as </tspan><tspan dy="-2.39" font-size="4.52">12</tspan><tspan dy="2.39">&#8203;</tspan><tspan>C in bones is</tspan></text>
<text x="330.00" y="312.60" font-size="6.6" fill="#222" text-anchor="middle" font-style="italic" transform="rotate(-90 330.00 312.60)" stroke="#222" stroke-width="0.2"><tspan>preferentially metabolised by decomposers</tspan></text>
<line x1="436.50" y1="226.40" x2="436.50" y2="387.20" stroke="#e0e0e0" stroke-width="1" stroke-linecap="butt"/>
<line x1="463.50" y1="226.40" x2="463.50" y2="387.20" stroke="#e0e0e0" stroke-width="1" stroke-linecap="butt"/>
<line x1="491.50" y1="226.40" x2="491.50" y2="387.20" stroke="#e0e0e0" stroke-width="1" stroke-linecap="butt"/>
<line x1="519.50" y1="226.40" x2="519.50" y2="387.20" stroke="#e0e0e0" stroke-width="1" stroke-linecap="butt"/>
<line x1="547.50" y1="226.40" x2="547.50" y2="387.20" stroke="#e0e0e0" stroke-width="1" stroke-linecap="butt"/>
<line x1="574.50" y1="226.40" x2="574.50" y2="387.20" stroke="#e0e0e0" stroke-width="1" stroke-linecap="butt"/>
<line x1="602.50" y1="226.40" x2="602.50" y2="387.20" stroke="#e0e0e0" stroke-width="1" stroke-linecap="butt"/>
<line x1="630.50" y1="226.40" x2="630.50" y2="387.20" stroke="#e0e0e0" stroke-width="1" stroke-linecap="butt"/>
<line x1="408.50" y1="238.50" x2="657.80" y2="238.50" stroke="#e0e0e0" stroke-width="1" stroke-linecap="butt"/>
<line x1="408.50" y1="251.50" x2="657.80" y2="251.50" stroke="#e0e0e0" stroke-width="1" stroke-linecap="butt"/>
<line x1="408.50" y1="263.50" x2="657.80" y2="263.50" stroke="#e0e0e0" stroke-width="1" stroke-linecap="butt"/>
<line x1="408.50" y1="275.50" x2="657.80" y2="275.50" stroke="#e0e0e0" stroke-width="1" stroke-linecap="butt"/>
<line x1="408.50" y1="288.50" x2="657.80" y2="288.50" stroke="#e0e0e0" stroke-width="1" stroke-linecap="butt"/>
<line x1="408.50" y1="300.50" x2="657.80" y2="300.50" stroke="#e0e0e0" stroke-width="1" stroke-linecap="butt"/>
<line x1="408.50" y1="312.50" x2="657.80" y2="312.50" stroke="#e0e0e0" stroke-width="1" stroke-linecap="butt"/>
<line x1="408.50" y1="325.50" x2="657.80" y2="325.50" stroke="#e0e0e0" stroke-width="1" stroke-linecap="butt"/>
<line x1="408.50" y1="337.50" x2="657.80" y2="337.50" stroke="#e0e0e0" stroke-width="1" stroke-linecap="butt"/>
<line x1="408.50" y1="350.50" x2="657.80" y2="350.50" stroke="#e0e0e0" stroke-width="1" stroke-linecap="butt"/>
<line x1="408.50" y1="362.50" x2="657.80" y2="362.50" stroke="#e0e0e0" stroke-width="1" stroke-linecap="butt"/>
<line x1="408.50" y1="374.50" x2="657.80" y2="374.50" stroke="#e0e0e0" stroke-width="1" stroke-linecap="butt"/>
<text x="408.50" y="218.60" font-size="8.6" fill="#222" text-anchor="middle" stroke="#222" stroke-width="0.2"><tspan>-18.0</tspan></text>
<text x="436.20" y="218.60" font-size="8.6" fill="#222" text-anchor="middle" stroke="#222" stroke-width="0.2"><tspan>-16.0</tspan></text>
<text x="463.90" y="218.60" font-size="8.6" fill="#222" text-anchor="middle" stroke="#222" stroke-width="0.2"><tspan>-14.0</tspan></text>
<text x="491.60" y="218.60" font-size="8.6" fill="#222" text-anchor="middle" stroke="#222" stroke-width="0.2"><tspan>-12.0</tspan></text>
<text x="519.30" y="218.60" font-size="8.6" fill="#222" text-anchor="middle" stroke="#222" stroke-width="0.2"><tspan>-10.0</tspan></text>
<text x="547.00" y="218.60" font-size="8.6" fill="#222" text-anchor="middle" stroke="#222" stroke-width="0.2"><tspan>-8.0</tspan></text>
<text x="574.70" y="218.60" font-size="8.6" fill="#222" text-anchor="middle" stroke="#222" stroke-width="0.2"><tspan>-6.0</tspan></text>
<text x="602.40" y="218.60" font-size="8.6" fill="#222" text-anchor="middle" stroke="#222" stroke-width="0.2"><tspan>-4.0</tspan></text>
<text x="630.10" y="218.60" font-size="8.6" fill="#222" text-anchor="middle" stroke="#222" stroke-width="0.2"><tspan>-2.0</tspan></text>
<text x="657.80" y="218.60" font-size="8.6" fill="#222" text-anchor="middle" stroke="#222" stroke-width="0.2"><tspan>0.0</tspan></text>
<text x="403.80" y="229.50" font-size="8.6" fill="#222" text-anchor="end" stroke="#222" stroke-width="0.2"><tspan>-30.4</tspan></text>
<text x="403.80" y="241.87" font-size="8.6" fill="#222" text-anchor="end" stroke="#222" stroke-width="0.2"><tspan>-30.6</tspan></text>
<text x="403.80" y="254.24" font-size="8.6" fill="#222" text-anchor="end" stroke="#222" stroke-width="0.2"><tspan>-30.8</tspan></text>
<text x="403.80" y="266.61" font-size="8.6" fill="#222" text-anchor="end" stroke="#222" stroke-width="0.2"><tspan>-31.0</tspan></text>
<text x="403.80" y="278.98" font-size="8.6" fill="#222" text-anchor="end" stroke="#222" stroke-width="0.2"><tspan>-31.2</tspan></text>
<text x="403.80" y="291.35" font-size="8.6" fill="#222" text-anchor="end" stroke="#222" stroke-width="0.2"><tspan>-31.4</tspan></text>
<text x="403.80" y="303.72" font-size="8.6" fill="#222" text-anchor="end" stroke="#222" stroke-width="0.2"><tspan>-31.6</tspan></text>
<text x="403.80" y="316.08" font-size="8.6" fill="#222" text-anchor="end" stroke="#222" stroke-width="0.2"><tspan>-31.8</tspan></text>
<text x="403.80" y="328.45" font-size="8.6" fill="#222" text-anchor="end" stroke="#222" stroke-width="0.2"><tspan>-32.0</tspan></text>
<text x="403.80" y="340.82" font-size="8.6" fill="#222" text-anchor="end" stroke="#222" stroke-width="0.2"><tspan>-32.2</tspan></text>
<text x="403.80" y="353.19" font-size="8.6" fill="#222" text-anchor="end" stroke="#222" stroke-width="0.2"><tspan>-32.4</tspan></text>
<text x="403.80" y="365.56" font-size="8.6" fill="#222" text-anchor="end" stroke="#222" stroke-width="0.2"><tspan>-32.6</tspan></text>
<text x="403.80" y="377.93" font-size="8.6" fill="#222" text-anchor="end" stroke="#222" stroke-width="0.2"><tspan>-32.8</tspan></text>
<text x="403.80" y="390.30" font-size="8.6" fill="#222" text-anchor="end" stroke="#222" stroke-width="0.2"><tspan>-33.0</tspan></text>
<text x="375.9" y="308.3" font-size="9.7" fill="#222" text-anchor="middle" transform="rotate(-90 375.9 308.3)" stroke="#222" stroke-width="0.2">Bulk <tspan font-style="italic">δ</tspan><tspan font-size="6.4" dy="-3.4">13</tspan><tspan dy="3.4">C</tspan><tspan font-size="6.4" dy="1.8">org</tspan><tspan dy="-1.8"> (‰ VDPD)</tspan></text>
<text x="529.3" y="206.0" font-size="9.7" fill="#222" text-anchor="middle" stroke="#222" stroke-width="0.2"><tspan font-style="italic">δ</tspan><tspan font-size="6.4" dy="-3.4">13</tspan><tspan dy="3.4">C</tspan><tspan font-size="6.4" dy="1.8">carb</tspan><tspan dy="-1.8"> (‰ VPDB)</tspan></text>
<text x="369.90" y="210.50" font-size="10.5" fill="#222" text-anchor="start" font-weight="bold" stroke="#222" stroke-width="0.2"><tspan>d</tspan></text>
<line x1="408.50" y1="344.50" x2="657.80" y2="344.50" stroke="#333" stroke-width="1" stroke-dasharray="3.7,3.6" stroke-linecap="butt"/>
<line x1="547.00" y1="226.40" x2="547.00" y2="387.20" stroke="#888" stroke-width="1.4" stroke-dasharray="3.6,2.6" stroke-linecap="butt"/>
<text x="413.4" y="340.6" font-size="7.2" fill="#222" font-style="italic" stroke="#222" stroke-width="0.2">δ<tspan font-size="5" dy="-2.6">13</tspan><tspan dy="2.6">C</tspan><tspan font-size="5" dy="1.3">org</tspan><tspan dy="-1.3"> = -32.3</tspan></text>
<text x="542.0" y="253.6" font-size="7.2" fill="#222" font-style="italic" text-anchor="middle" transform="rotate(-90 542.0 253.6)" stroke="#222" stroke-width="0.2">δ<tspan font-size="5" dy="-2.6">13</tspan><tspan dy="2.6">C</tspan><tspan font-size="5" dy="1.3">carb</tspan><tspan dy="-1.3"> = -8.0</tspan></text>
<path d="M497.50,263.00 C499.72,262.12 503.17,261.45 505.50,262.20 C507.83,262.95 510.28,264.28 511.50,267.50 C512.72,270.72 512.97,277.50 512.80,281.50 C512.63,285.50 513.30,287.33 510.50,291.50 C507.70,295.67 500.42,301.95 496.00,306.50 C491.58,311.05 486.92,316.52 484.00,318.80 C481.08,321.08 480.00,320.80 478.50,320.20 C477.00,319.60 475.22,318.40 475.00,315.20 C474.78,312.00 475.28,307.03 477.20,301.00 C479.12,294.97 484.00,284.58 486.50,279.00 C489.00,273.42 490.37,270.17 492.20,267.50 C494.03,264.83 495.28,263.88 497.50,263.00Z" fill="none" stroke="#ed7d31" stroke-width="1.3" stroke-dasharray="5,3"/>
<path d="M587.40,234.20 C590.32,233.95 594.15,234.48 598.00,236.30 C601.85,238.12 606.92,242.02 610.50,245.10 C614.08,248.18 617.35,251.58 619.50,254.80 C621.65,258.02 622.45,258.87 623.40,264.40 C624.35,269.93 624.65,278.90 625.20,288.00 C625.75,297.10 626.55,311.33 626.70,319.00 C626.85,326.67 626.88,330.73 626.10,334.00 C625.32,337.27 624.68,337.80 622.00,338.60 C619.32,339.40 614.00,339.20 610.00,338.80 C606.00,338.40 601.50,337.60 598.00,336.20 C594.50,334.80 591.50,333.43 589.00,330.40 C586.50,327.37 584.77,323.07 583.00,318.00 C581.23,312.93 579.80,305.50 578.40,300.00 C577.00,294.50 575.60,291.25 574.60,285.00 C573.60,278.75 572.30,268.83 572.40,262.50 C572.50,256.17 573.85,251.12 575.20,247.00 C576.55,242.88 578.47,239.93 580.50,237.80 C582.53,235.67 584.48,234.45 587.40,234.20Z" fill="none" stroke="#f4b183" stroke-width="1.25" stroke-dasharray="5.5,3"/>
<path d="M438.80,355.80 C442.55,352.97 447.47,353.10 452.00,352.50 C456.53,351.90 460.67,351.62 466.00,352.20 C471.33,352.78 479.03,354.12 484.00,356.00 C488.97,357.88 494.63,360.92 495.80,363.50 C496.97,366.08 495.30,369.18 491.00,371.50 C486.70,373.82 476.50,375.85 470.00,377.40 C463.50,378.95 457.52,379.90 452.00,380.80 C446.48,381.70 441.00,383.00 436.90,382.80 C432.80,382.60 428.63,381.82 427.40,379.60 C426.17,377.38 427.60,373.47 429.50,369.50 C431.40,365.53 435.05,358.63 438.80,355.80Z" fill="none" stroke="#1ea7e1" stroke-width="1.15" stroke-dasharray="4.5,2.6"/>
<ellipse cx="624.30" cy="369.00" rx="14.20" ry="5.00" transform="rotate(29.90 624.30 369.00)" fill="none" stroke="#8a8a8a" stroke-width="0.8" stroke-dasharray="3.4,2"/>
<circle cx="500.10" cy="266.50" r="1.85" fill="#f4a46c" stroke="#303030" stroke-width="0.55"/>
<circle cx="507.20" cy="269.70" r="1.85" fill="#eb6c26" stroke="#303030" stroke-width="0.55"/>
<circle cx="507.20" cy="290.00" r="1.85" fill="#f4a46c" stroke="#303030" stroke-width="0.55"/>
<circle cx="479.70" cy="317.20" r="1.85" fill="#eb6c26" stroke="#303030" stroke-width="0.55"/>
<circle cx="586.40" cy="237.20" r="1.85" fill="#eb6c26" stroke="#303030" stroke-width="0.55"/>
<circle cx="618.10" cy="258.70" r="1.85" fill="#eb6c26" stroke="#303030" stroke-width="0.55"/>
<circle cx="574.60" cy="263.60" r="1.85" fill="#eb6c26" stroke="#303030" stroke-width="0.55"/>
<circle cx="592.60" cy="328.60" r="1.85" fill="#f4a46c" stroke="#303030" stroke-width="0.55"/>
<circle cx="620.10" cy="334.70" r="1.85" fill="#f4a46c" stroke="#303030" stroke-width="0.55"/>
<circle cx="443.80" cy="357.80" r="1.85" fill="#0aa3e4" stroke="#303030" stroke-width="0.55"/>
<circle cx="464.50" cy="354.90" r="1.85" fill="#0aa3e4" stroke="#303030" stroke-width="0.55"/>
<circle cx="490.30" cy="361.90" r="1.85" fill="#0aa3e4" stroke="#303030" stroke-width="0.55"/>
<circle cx="494.30" cy="367.80" r="1.85" fill="#0aa3e4" stroke="#303030" stroke-width="0.55"/>
<circle cx="430.20" cy="379.00" r="1.85" fill="#0aa3e4" stroke="#303030" stroke-width="0.55"/>
<circle cx="454.80" cy="378.00" r="1.85" fill="#0aa3e4" stroke="#303030" stroke-width="0.55"/>
<circle cx="615.60" cy="364.00" r="1.85" fill="#8c8c8c" stroke="#303030" stroke-width="0.55"/>
<circle cx="633.00" cy="374.00" r="1.85" fill="#8c8c8c" stroke="#303030" stroke-width="0.55"/>
<text x="498.60" y="264.60" font-size="7.2" fill="#222" text-anchor="end" stroke="#222" stroke-width="0.2"><tspan>Ribs-C</tspan></text>
<text x="508.60" y="268.50" font-size="7.2" fill="#222" text-anchor="start" stroke="#222" stroke-width="0.2"><tspan>Vert-E</tspan></text>
<text x="508.60" y="296.40" font-size="7.2" fill="#222" text-anchor="start" stroke="#222" stroke-width="0.2"><tspan>Ribs-B</tspan></text>
<text x="476.40" y="322.40" font-size="7.2" fill="#222" text-anchor="end" stroke="#222" stroke-width="0.2"><tspan>Vert-D</tspan></text>
<text x="463.40" y="284.50" font-size="8.4" fill="#ed7d31" text-anchor="middle" stroke="#ed7d31" stroke-width="0.2"><tspan>Proximal</tspan></text>
<text x="463.40" y="294.90" font-size="8.4" fill="#ed7d31" text-anchor="middle" stroke="#ed7d31" stroke-width="0.2"><tspan>Bones</tspan></text>
<text x="586.40" y="233.70" font-size="7.2" fill="#222" text-anchor="middle" stroke="#222" stroke-width="0.2"><tspan>Vert-C</tspan></text>
<text x="615.60" y="256.20" font-size="7.2" fill="#222" text-anchor="start" stroke="#222" stroke-width="0.2"><tspan>Vert-B</tspan></text>
<text x="575.20" y="260.70" font-size="7.2" fill="#222" text-anchor="end" stroke="#222" stroke-width="0.2"><tspan>Vert-A</tspan></text>
<text x="594.60" y="326.50" font-size="7.2" fill="#222" text-anchor="end" stroke="#222" stroke-width="0.2"><tspan>Ribs-D, E</tspan></text>
<text x="618.10" y="332.40" font-size="7.2" fill="#222" text-anchor="start" stroke="#222" stroke-width="0.2"><tspan>Ribs-A</tspan></text>
<text x="602.20" y="285.60" font-size="8.4" fill="#f4b183" text-anchor="middle" stroke="#f4b183" stroke-width="0.2"><tspan>Distal</tspan></text>
<text x="602.20" y="295.60" font-size="8.4" fill="#f4b183" text-anchor="middle" stroke="#f4b183" stroke-width="0.2"><tspan>Bones</tspan></text>
<text x="613.00" y="360.80" font-size="7.2" fill="#222" text-anchor="end" stroke="#222" stroke-width="0.2"><tspan>Shale</tspan></text>
<text x="636.10" y="382.90" font-size="7.2" fill="#222" text-anchor="start" stroke="#222" stroke-width="0.2"><tspan>Rim</tspan></text>
<text x="477.40" y="384.50" font-size="8.4" fill="#1ea7e1" text-anchor="start" stroke="#1ea7e1" stroke-width="0.2"><tspan>Concretion</tspan></text>
<line x1="411.00" y1="398.60" x2="658.00" y2="398.60" stroke="#000" stroke-width="1.75" stroke-linecap="butt"/>
<polyline points="425.70,388.60 410.20,398.60 425.70,408.60" fill="none" stroke="#000" stroke-width="1.75" stroke-miterlimit="10"/>
<text x="544.00" y="408.90" font-size="6.9" fill="#222" text-anchor="middle" font-style="italic" stroke="#222" stroke-width="0.2"><tspan>Carbonate </tspan><tspan dy="-2.48" font-size="4.69">13</tspan><tspan dy="2.48">&#8203;</tspan><tspan>C-depletion from SRB releasing </tspan><tspan dy="-2.48" font-size="4.69">13</tspan><tspan dy="2.48">&#8203;</tspan><tspan>C-depleted bicarbonate</tspan></text>
<line x1="74.50" y1="433.00" x2="74.50" y2="594.20" stroke="#e0e0e0" stroke-width="1" stroke-linecap="butt"/>
<line x1="102.50" y1="433.00" x2="102.50" y2="594.20" stroke="#e0e0e0" stroke-width="1" stroke-linecap="butt"/>
<line x1="130.50" y1="433.00" x2="130.50" y2="594.20" stroke="#e0e0e0" stroke-width="1" stroke-linecap="butt"/>
<line x1="157.50" y1="433.00" x2="157.50" y2="594.20" stroke="#e0e0e0" stroke-width="1" stroke-linecap="butt"/>
<line x1="185.50" y1="433.00" x2="185.50" y2="594.20" stroke="#e0e0e0" stroke-width="1" stroke-linecap="butt"/>
<line x1="213.50" y1="433.00" x2="213.50" y2="594.20" stroke="#e0e0e0" stroke-width="1" stroke-linecap="butt"/>
<line x1="241.50" y1="433.00" x2="241.50" y2="594.20" stroke="#e0e0e0" stroke-width="1" stroke-linecap="butt"/>
<line x1="268.50" y1="433.00" x2="268.50" y2="594.20" stroke="#e0e0e0" stroke-width="1" stroke-linecap="butt"/>
<line x1="46.80" y1="459.50" x2="296.60" y2="459.50" stroke="#e0e0e0" stroke-width="1" stroke-linecap="butt"/>
<line x1="46.80" y1="486.50" x2="296.60" y2="486.50" stroke="#e0e0e0" stroke-width="1" stroke-linecap="butt"/>
<line x1="46.80" y1="513.50" x2="296.60" y2="513.50" stroke="#e0e0e0" stroke-width="1" stroke-linecap="butt"/>
<line x1="46.80" y1="540.50" x2="296.60" y2="540.50" stroke="#e0e0e0" stroke-width="1" stroke-linecap="butt"/>
<line x1="46.80" y1="567.50" x2="296.60" y2="567.50" stroke="#e0e0e0" stroke-width="1" stroke-linecap="butt"/>
<text x="46.80" y="426.80" font-size="8.6" fill="#222" text-anchor="middle" stroke="#222" stroke-width="0.2"><tspan>-18.0</tspan></text>
<text x="74.56" y="426.80" font-size="8.6" fill="#222" text-anchor="middle" stroke="#222" stroke-width="0.2"><tspan>-16.0</tspan></text>
<text x="102.31" y="426.80" font-size="8.6" fill="#222" text-anchor="middle" stroke="#222" stroke-width="0.2"><tspan>-14.0</tspan></text>
<text x="130.07" y="426.80" font-size="8.6" fill="#222" text-anchor="middle" stroke="#222" stroke-width="0.2"><tspan>-12.0</tspan></text>
<text x="157.82" y="426.80" font-size="8.6" fill="#222" text-anchor="middle" stroke="#222" stroke-width="0.2"><tspan>-10.0</tspan></text>
<text x="185.58" y="426.80" font-size="8.6" fill="#222" text-anchor="middle" stroke="#222" stroke-width="0.2"><tspan>-8.0</tspan></text>
<text x="213.33" y="426.80" font-size="8.6" fill="#222" text-anchor="middle" stroke="#222" stroke-width="0.2"><tspan>-6.0</tspan></text>
<text x="241.09" y="426.80" font-size="8.6" fill="#222" text-anchor="middle" stroke="#222" stroke-width="0.2"><tspan>-4.0</tspan></text>
<text x="268.84" y="426.80" font-size="8.6" fill="#222" text-anchor="middle" stroke="#222" stroke-width="0.2"><tspan>-2.0</tspan></text>
<text x="296.60" y="426.80" font-size="8.6" fill="#222" text-anchor="middle" stroke="#222" stroke-width="0.2"><tspan>0.0</tspan></text>
<text x="44.20" y="436.10" font-size="8.6" fill="#222" text-anchor="end" stroke="#222" stroke-width="0.2"><tspan>0.0</tspan></text>
<text x="44.20" y="462.97" font-size="8.6" fill="#222" text-anchor="end" stroke="#222" stroke-width="0.2"><tspan>-2.0</tspan></text>
<text x="44.20" y="489.83" font-size="8.6" fill="#222" text-anchor="end" stroke="#222" stroke-width="0.2"><tspan>-4.0</tspan></text>
<text x="44.20" y="516.70" font-size="8.6" fill="#222" text-anchor="end" stroke="#222" stroke-width="0.2"><tspan>-6.0</tspan></text>
<text x="44.20" y="543.57" font-size="8.6" fill="#222" text-anchor="end" stroke="#222" stroke-width="0.2"><tspan>-8.0</tspan></text>
<text x="44.20" y="570.43" font-size="8.6" fill="#222" text-anchor="end" stroke="#222" stroke-width="0.2"><tspan>-10.0</tspan></text>
<text x="44.20" y="597.30" font-size="8.6" fill="#222" text-anchor="end" stroke="#222" stroke-width="0.2"><tspan>-12.0</tspan></text>
<text x="23.9" y="515.8" font-size="10.2" fill="#222" text-anchor="middle" transform="rotate(-90 23.9 515.8)" stroke="#222" stroke-width="0.2"><tspan font-style="italic">δ</tspan><tspan font-size="6.8" dy="-3.6">18</tspan><tspan dy="3.6">O</tspan><tspan font-size="6.8" dy="1.9">carb</tspan><tspan dy="-1.9"> (‰ VPVB)</tspan></text>
<text x="170.9" y="413.2" font-size="9.7" fill="#222" text-anchor="middle" stroke="#222" stroke-width="0.2"><tspan font-style="italic">δ</tspan><tspan font-size="6.4" dy="-3.4">13</tspan><tspan dy="3.4">C</tspan><tspan font-size="6.4" dy="1.8">carb</tspan><tspan dy="-1.8"> (‰ VPDB)</tspan></text>
<text x="-0.60" y="430.80" font-size="10.5" fill="#222" text-anchor="start" font-weight="bold" stroke="#222" stroke-width="0.2"><tspan>e</tspan></text>
<line x1="46.80" y1="540.50" x2="296.60" y2="540.50" stroke="#333" stroke-width="1" stroke-dasharray="3.7,3.6" stroke-linecap="butt"/>
<line x1="185.50" y1="433.00" x2="185.50" y2="594.20" stroke="#333" stroke-width="1" stroke-dasharray="3.7,3.6" stroke-linecap="butt"/>
<text x="52.6" y="548.7" font-size="7.2" fill="#222" font-style="italic" stroke="#222" stroke-width="0.2">δ<tspan font-size="5" dy="-2.6">18</tspan><tspan dy="2.6">O</tspan><tspan font-size="5" dy="1.3">carb</tspan><tspan dy="-1.3"> = -8.0</tspan></text>
<text x="182.3" y="459.2" font-size="7.2" fill="#222" font-style="italic" text-anchor="middle" transform="rotate(-90 182.3 459.2)" stroke="#222" stroke-width="0.2">δ<tspan font-size="5" dy="-2.6">13</tspan><tspan dy="2.6">C</tspan><tspan font-size="5" dy="1.3">carb</tspan><tspan dy="-1.3"> = -8.0</tspan></text>
<path d="M63.40,478.00 C63.50,476.50 63.83,474.42 66.60,473.40 C69.37,472.38 74.43,472.03 80.00,471.90 C85.57,471.77 93.33,471.85 100.00,472.60 C106.67,473.35 113.67,474.47 120.00,476.40 C126.33,478.33 132.67,481.40 138.00,484.20 C143.33,487.00 148.17,490.53 152.00,493.20 C155.83,495.87 158.87,498.30 161.00,500.20 C163.13,502.10 164.72,503.47 164.80,504.60 C164.88,505.73 163.97,506.87 161.50,507.00 C159.03,507.13 154.42,506.50 150.00,505.40 C145.58,504.30 140.83,502.23 135.00,500.40 C129.17,498.57 121.67,496.40 115.00,494.40 C108.33,492.40 101.50,490.10 95.00,488.40 C88.50,486.70 80.83,485.20 76.00,484.20 C71.17,483.20 68.10,483.43 66.00,482.40 C63.90,481.37 63.30,479.50 63.40,478.00Z" fill="none" stroke="#1ea7e1" stroke-width="1.0" stroke-dasharray="4,2.4"/>
<path d="M115.00,495.60 C116.57,494.75 120.70,494.25 123.70,494.40 C126.70,494.55 130.37,495.63 133.00,496.50 C135.63,497.37 137.45,498.08 139.50,499.60 C141.55,501.12 143.73,503.03 145.30,505.60 C146.87,508.17 148.18,511.60 148.90,515.00 C149.62,518.40 149.83,523.17 149.60,526.00 C149.37,528.83 148.43,531.08 147.50,532.00 C146.57,532.92 145.93,532.57 144.00,531.50 C142.07,530.43 138.95,528.28 135.90,525.60 C132.85,522.92 128.72,518.73 125.70,515.40 C122.68,512.07 119.70,508.25 117.80,505.60 C115.90,502.95 114.77,501.17 114.30,499.50 C113.83,497.83 113.43,496.45 115.00,495.60Z" fill="none" stroke="#ed7d31" stroke-width="1.05" stroke-dasharray="4.2,2.4"/>
<ellipse cx="236.90" cy="559.90" rx="31.50" ry="8.20" transform="rotate(32.50 236.90 559.90)" fill="none" stroke="#f4b183" stroke-width="0.95" stroke-dasharray="4,2.4"/>
<ellipse cx="262.60" cy="566.50" rx="13.20" ry="4.40" transform="rotate(33.30 262.60 566.50)" fill="none" stroke="#8a8a8a" stroke-width="0.8"/>
<circle cx="67.50" cy="478.00" r="1.85" fill="#0aa3e4" stroke="#303030" stroke-width="0.55"/>
<circle cx="80.30" cy="476.30" r="1.85" fill="#0aa3e4" stroke="#303030" stroke-width="0.55"/>
<circle cx="80.70" cy="480.40" r="1.85" fill="#0aa3e4" stroke="#303030" stroke-width="0.55"/>
<circle cx="82.80" cy="480.40" r="1.85" fill="#0aa3e4" stroke="#303030" stroke-width="0.55"/>
<circle cx="92.00" cy="482.50" r="1.85" fill="#0aa3e4" stroke="#303030" stroke-width="0.55"/>
<circle cx="93.40" cy="482.00" r="1.85" fill="#0aa3e4" stroke="#303030" stroke-width="0.55"/>
<circle cx="103.20" cy="479.40" r="1.85" fill="#0aa3e4" stroke="#303030" stroke-width="0.55"/>
<circle cx="118.80" cy="482.70" r="1.85" fill="#0aa3e4" stroke="#303030" stroke-width="0.55"/>
<circle cx="128.80" cy="490.60" r="1.85" fill="#0aa3e4" stroke="#303030" stroke-width="0.55"/>
<circle cx="128.80" cy="494.30" r="1.85" fill="#0aa3e4" stroke="#303030" stroke-width="0.55"/>
<circle cx="132.90" cy="496.40" r="1.85" fill="#0aa3e4" stroke="#303030" stroke-width="0.55"/>
<circle cx="144.50" cy="494.30" r="1.85" fill="#0aa3e4" stroke="#303030" stroke-width="0.55"/>
<circle cx="160.90" cy="504.50" r="1.85" fill="#0aa3e4" stroke="#303030" stroke-width="0.55"/>
<circle cx="117.90" cy="498.00" r="1.85" fill="#eb6c26" stroke="#303030" stroke-width="0.55"/>
<circle cx="138.40" cy="502.90" r="1.85" fill="#f4a46c" stroke="#303030" stroke-width="0.55"/>
<circle cx="145.50" cy="510.30" r="1.85" fill="#f4a46c" stroke="#303030" stroke-width="0.55"/>
<circle cx="145.10" cy="529.50" r="1.85" fill="#eb6c26" stroke="#303030" stroke-width="0.55"/>
<circle cx="213.30" cy="545.90" r="1.85" fill="#eb6c26" stroke="#303030" stroke-width="0.55"/>
<circle cx="225.00" cy="551.40" r="1.85" fill="#eb6c26" stroke="#303030" stroke-width="0.55"/>
<circle cx="230.70" cy="552.40" r="1.85" fill="#f4a46c" stroke="#303030" stroke-width="0.55"/>
<circle cx="256.90" cy="559.80" r="1.85" fill="#eb6c26" stroke="#303030" stroke-width="0.55"/>
<circle cx="258.60" cy="575.00" r="1.85" fill="#f4a46c" stroke="#303030" stroke-width="0.55"/>
<circle cx="254.80" cy="560.40" r="1.85" fill="#8c8c8c" stroke="#303030" stroke-width="0.55"/>
<circle cx="271.90" cy="572.30" r="1.85" fill="#8c8c8c" stroke="#303030" stroke-width="0.55"/>
<line x1="258.50" y1="559.20" x2="264.50" y2="555.50" stroke="#555" stroke-width="0.6" stroke-linecap="butt"/>
<text x="68.90" y="471.00" font-size="8.4" fill="#1ea7e1" text-anchor="start" stroke="#1ea7e1" stroke-width="0.2"><tspan>Concretion</tspan></text>
<text x="115.10" y="500.60" font-size="7.2" fill="#222" text-anchor="end" stroke="#222" stroke-width="0.2"><tspan>Vert-D</tspan></text>
<text x="137.40" y="509.80" font-size="7.2" fill="#222" text-anchor="end" stroke="#222" stroke-width="0.2"><tspan>Ribs-C</tspan></text>
<text x="148.80" y="513.70" font-size="7.2" fill="#222" text-anchor="start" stroke="#222" stroke-width="0.2"><tspan>Ribs-B</tspan></text>
<text x="145.30" y="537.80" font-size="7.2" fill="#222" text-anchor="middle" stroke="#222" stroke-width="0.2"><tspan>Vert-E</tspan></text>
<text x="106.60" y="518.80" font-size="8.4" fill="#ed7d31" text-anchor="middle" stroke="#ed7d31" stroke-width="0.2"><tspan>Proximal</tspan></text>
<text x="106.80" y="529.40" font-size="8.4" fill="#ed7d31" text-anchor="middle" stroke="#ed7d31" stroke-width="0.2"><tspan>Bones</tspan></text>
<text x="210.20" y="547.80" font-size="7.2" fill="#222" text-anchor="end" stroke="#222" stroke-width="0.2"><tspan>Vert-A</tspan></text>
<text x="224.10" y="559.20" font-size="7.2" fill="#222" text-anchor="end" stroke="#222" stroke-width="0.2"><tspan>Vert-C</tspan></text>
<text x="232.30" y="550.60" font-size="7.2" fill="#222" text-anchor="start" stroke="#222" stroke-width="0.2"><tspan>Ribs-D, E</tspan></text>
<text x="264.90" y="556.10" font-size="7.2" fill="#222" text-anchor="start" stroke="#222" stroke-width="0.2"><tspan>Vert-B</tspan></text>
<text x="252.00" y="566.40" font-size="7.2" fill="#222" text-anchor="end" stroke="#222" stroke-width="0.2"><tspan>Rim</tspan></text>
<text x="275.00" y="579.50" font-size="7.2" fill="#222" text-anchor="start" stroke="#222" stroke-width="0.2"><tspan>Shale</tspan></text>
<text x="257.30" y="583.80" font-size="7.2" fill="#222" text-anchor="middle" stroke="#222" stroke-width="0.2"><tspan>Ribs-A</tspan></text>
<text x="216.10" y="573.20" font-size="8.4" fill="#f4b183" text-anchor="middle" stroke="#f4b183" stroke-width="0.2"><tspan>Distal</tspan></text>
<text x="216.30" y="583.70" font-size="8.4" fill="#f4b183" text-anchor="middle" stroke="#f4b183" stroke-width="0.2"><tspan>Bones</tspan></text>
<line x1="311.90" y1="594.00" x2="311.90" y2="435.20" stroke="#000" stroke-width="1.75" stroke-linecap="butt"/>
<polyline points="301.90,449.40 311.90,434.40 321.90,449.40" fill="none" stroke="#000" stroke-width="1.75" stroke-linejoin="miter" stroke-miterlimit="10"/>
<text x="322.20" y="520.80" font-size="6.6" fill="#222" text-anchor="middle" font-style="italic" transform="rotate(-90 322.20 520.80)" stroke="#222" stroke-width="0.2"><tspan>Carbonate </tspan><tspan dy="-2.38" font-size="4.49">18</tspan><tspan dy="2.38">&#8203;</tspan><tspan>O-enrichment with increased</tspan></text>
<text x="330.70" y="521.20" font-size="6.6" fill="#222" text-anchor="middle" font-style="italic" transform="rotate(-90 330.70 521.20)" stroke="#222" stroke-width="0.2"><tspan>OM recycling and DIC incorporation</tspan></text>
<line x1="48.70" y1="607.20" x2="295.00" y2="607.20" stroke="#000" stroke-width="1.75" stroke-linecap="butt"/>
<polyline points="63.40,597.20 47.90,607.20 63.40,617.20" fill="none" stroke="#000" stroke-width="1.75" stroke-miterlimit="10"/>
<text x="182.30" y="617.60" font-size="6.9" fill="#222" text-anchor="middle" font-style="italic" stroke="#222" stroke-width="0.2"><tspan>Carbonate </tspan><tspan dy="-2.48" font-size="4.69">13</tspan><tspan dy="2.48">&#8203;</tspan><tspan>C-depletion from SRB releasing </tspan><tspan dy="-2.48" font-size="4.69">13</tspan><tspan dy="2.48">&#8203;</tspan><tspan>C-depleted bicarbonate</tspan></text>
<line x1="435.50" y1="433.20" x2="435.50" y2="593.80" stroke="#e0e0e0" stroke-width="1" stroke-linecap="butt"/>
<line x1="463.50" y1="433.20" x2="463.50" y2="593.80" stroke="#e0e0e0" stroke-width="1" stroke-linecap="butt"/>
<line x1="490.50" y1="433.20" x2="490.50" y2="593.80" stroke="#e0e0e0" stroke-width="1" stroke-linecap="butt"/>
<line x1="518.50" y1="433.20" x2="518.50" y2="593.80" stroke="#e0e0e0" stroke-width="1" stroke-linecap="butt"/>
<line x1="574.50" y1="433.20" x2="574.50" y2="593.80" stroke="#e0e0e0" stroke-width="1" stroke-linecap="butt"/>
<line x1="602.50" y1="433.20" x2="602.50" y2="593.80" stroke="#e0e0e0" stroke-width="1" stroke-linecap="butt"/>
<line x1="629.50" y1="433.20" x2="629.50" y2="593.80" stroke="#e0e0e0" stroke-width="1" stroke-linecap="butt"/>
<line x1="408.50" y1="571.50" x2="658.40" y2="571.50" stroke="#e0e0e0" stroke-width="1" stroke-linecap="butt"/>
<line x1="408.50" y1="547.50" x2="658.40" y2="547.50" stroke="#e0e0e0" stroke-width="1" stroke-linecap="butt"/>
<line x1="408.50" y1="524.50" x2="658.40" y2="524.50" stroke="#e0e0e0" stroke-width="1" stroke-linecap="butt"/>
<line x1="408.50" y1="501.50" x2="658.40" y2="501.50" stroke="#e0e0e0" stroke-width="1" stroke-linecap="butt"/>
<line x1="408.50" y1="478.50" x2="658.40" y2="478.50" stroke="#e0e0e0" stroke-width="1" stroke-linecap="butt"/>
<line x1="408.50" y1="455.50" x2="658.40" y2="455.50" stroke="#e0e0e0" stroke-width="1" stroke-linecap="butt"/>
<text x="408.50" y="604.60" font-size="8.6" fill="#222" text-anchor="middle" stroke="#222" stroke-width="0.2"><tspan>-25.0</tspan></text>
<text x="436.27" y="604.60" font-size="8.6" fill="#222" text-anchor="middle" stroke="#222" stroke-width="0.2"><tspan>-20.0</tspan></text>
<text x="464.03" y="604.60" font-size="8.6" fill="#222" text-anchor="middle" stroke="#222" stroke-width="0.2"><tspan>-15.0</tspan></text>
<text x="491.80" y="604.60" font-size="8.6" fill="#222" text-anchor="middle" stroke="#222" stroke-width="0.2"><tspan>-10.0</tspan></text>
<text x="519.57" y="604.60" font-size="8.6" fill="#222" text-anchor="middle" stroke="#222" stroke-width="0.2"><tspan>-5.0</tspan></text>
<text x="547.33" y="604.60" font-size="8.6" fill="#222" text-anchor="middle" stroke="#222" stroke-width="0.2"><tspan>0.0</tspan></text>
<text x="575.10" y="604.60" font-size="8.6" fill="#222" text-anchor="middle" stroke="#222" stroke-width="0.2"><tspan>5.0</tspan></text>
<text x="602.87" y="604.60" font-size="8.6" fill="#222" text-anchor="middle" stroke="#222" stroke-width="0.2"><tspan>10.0</tspan></text>
<text x="630.63" y="604.60" font-size="8.6" fill="#222" text-anchor="middle" stroke="#222" stroke-width="0.2"><tspan>15.0</tspan></text>
<text x="658.40" y="604.60" font-size="8.6" fill="#222" text-anchor="middle" stroke="#222" stroke-width="0.2"><tspan>20.0</tspan></text>
<text x="403.60" y="596.90" font-size="8.6" fill="#222" text-anchor="end" stroke="#222" stroke-width="0.2"><tspan>0</tspan></text>
<text x="403.60" y="573.96" font-size="8.6" fill="#222" text-anchor="end" stroke="#222" stroke-width="0.2"><tspan>20</tspan></text>
<text x="403.60" y="551.01" font-size="8.6" fill="#222" text-anchor="end" stroke="#222" stroke-width="0.2"><tspan>40</tspan></text>
<text x="403.60" y="528.07" font-size="8.6" fill="#222" text-anchor="end" stroke="#222" stroke-width="0.2"><tspan>60</tspan></text>
<text x="403.60" y="505.13" font-size="8.6" fill="#222" text-anchor="end" stroke="#222" stroke-width="0.2"><tspan>80</tspan></text>
<text x="403.60" y="482.19" font-size="8.6" fill="#222" text-anchor="end" stroke="#222" stroke-width="0.2"><tspan>100</tspan></text>
<text x="403.60" y="459.24" font-size="8.6" fill="#222" text-anchor="end" stroke="#222" stroke-width="0.2"><tspan>120</tspan></text>
<text x="403.60" y="436.30" font-size="8.6" fill="#222" text-anchor="end" stroke="#222" stroke-width="0.2"><tspan>140</tspan></text>
<text x="387.00" y="511.60" font-size="9.7" fill="#222" text-anchor="middle" transform="rotate(-90 387.00 511.60)" stroke="#222" stroke-width="0.2"><tspan>OI (mg CO2/g TOC)</tspan></text>
<text x="538.9" y="618.4" font-size="9.7" fill="#222" text-anchor="middle" stroke="#222" stroke-width="0.2"><tspan font-style="italic">δ</tspan><tspan font-size="6.4" dy="-3.4">34</tspan><tspan dy="3.4">S</tspan><tspan font-size="6.4" dy="1.8">total</tspan><tspan dy="-1.8"> (‰ VCDT)</tspan></text>
<text x="370.60" y="431.40" font-size="10.5" fill="#222" text-anchor="start" font-weight="bold" stroke="#222" stroke-width="0.2"><tspan>f</tspan></text>
<line x1="408.50" y1="519.24" x2="658.40" y2="519.24" stroke="#999" stroke-width="1.5" stroke-dasharray="3.8,2.8" stroke-linecap="butt"/>
<line x1="547.00" y1="433.20" x2="547.00" y2="593.80" stroke="#999" stroke-width="1.5" stroke-dasharray="3.8,2.8" stroke-linecap="butt"/>
<text x="415.10" y="516.60" font-size="7.2" fill="#222" text-anchor="start" font-style="italic" stroke="#222" stroke-width="0.2"><tspan>OI = 65</tspan></text>
<text x="533.8" y="578.2" font-size="7.2" fill="#222" font-style="italic" stroke="#222" stroke-width="0.2">S<tspan font-size="4.8" dy="-2.8">2-</tspan></text>
<text x="550.9" y="578.2" font-size="7.2" fill="#222" font-style="italic" stroke="#222" stroke-width="0.2">SO<tspan font-size="4.8" dy="1.4">4</tspan><tspan font-size="4.8" dy="-4.2">2-</tspan></text>
<ellipse cx="492.60" cy="535.40" rx="24.20" ry="12.60" transform="rotate(40.00 492.60 535.40)" fill="none" stroke="#1ea7e1" stroke-width="1.05" stroke-dasharray="4.2,2.5"/>
<ellipse cx="441.40" cy="579.60" rx="3.80" ry="8.20" transform="rotate(-28.00 441.40 579.60)" fill="none" stroke="#8a8a8a" stroke-width="0.8" stroke-dasharray="2.5,1.5"/>
<path d="M563.70,452.60 C564.98,452.00 565.80,451.82 568.70,452.00 C571.60,452.18 577.17,452.58 581.10,453.70 C585.03,454.82 589.18,456.83 592.30,458.70 C595.42,460.57 597.83,462.63 599.80,464.90 C601.77,467.17 602.97,469.62 604.10,472.30 C605.23,474.98 605.87,477.68 606.60,481.00 C607.33,484.32 607.77,488.05 608.50,492.20 C609.23,496.35 610.22,502.20 611.00,505.90 C611.78,509.60 613.03,512.65 613.20,514.40 C613.37,516.15 613.83,516.27 612.00,516.40 C610.17,516.53 606.32,515.70 602.20,515.20 C598.08,514.70 592.48,514.12 587.30,513.40 C582.12,512.68 575.42,511.90 571.10,510.90 C566.78,509.90 563.47,508.85 561.40,507.40 C559.33,505.95 559.32,505.13 558.70,502.20 C558.08,499.27 557.80,494.37 557.70,489.80 C557.60,485.23 557.83,479.37 558.10,474.80 C558.37,470.23 558.82,465.60 559.30,462.40 C559.78,459.20 560.27,457.23 561.00,455.60 C561.73,453.97 562.42,453.20 563.70,452.60Z" fill="none" stroke="#ed7d31" stroke-width="1.0"/>
<ellipse cx="628.00" cy="495.00" rx="23.50" ry="6.20" transform="rotate(-47.00 628.00 495.00)" fill="none" stroke="#f4b183" stroke-width="0.95" stroke-dasharray="4,2.4"/>
<circle cx="478.30" cy="521.70" r="1.85" fill="#0aa3e4" stroke="#303030" stroke-width="0.55"/>
<circle cx="486.80" cy="524.00" r="1.85" fill="#0aa3e4" stroke="#303030" stroke-width="0.55"/>
<circle cx="489.30" cy="522.20" r="1.85" fill="#0aa3e4" stroke="#303030" stroke-width="0.55"/>
<circle cx="494.30" cy="527.00" r="1.85" fill="#0aa3e4" stroke="#303030" stroke-width="0.55"/>
<circle cx="474.90" cy="529.00" r="1.85" fill="#0aa3e4" stroke="#303030" stroke-width="0.55"/>
<circle cx="488.90" cy="531.00" r="1.85" fill="#0aa3e4" stroke="#303030" stroke-width="0.55"/>
<circle cx="484.80" cy="535.10" r="1.85" fill="#0aa3e4" stroke="#303030" stroke-width="0.55"/>
<circle cx="479.40" cy="538.30" r="1.85" fill="#0aa3e4" stroke="#303030" stroke-width="0.55"/>
<circle cx="494.30" cy="539.30" r="1.85" fill="#0aa3e4" stroke="#303030" stroke-width="0.55"/>
<circle cx="483.80" cy="542.40" r="1.85" fill="#0aa3e4" stroke="#303030" stroke-width="0.55"/>
<circle cx="483.80" cy="544.80" r="1.85" fill="#0aa3e4" stroke="#303030" stroke-width="0.55"/>
<circle cx="509.10" cy="544.40" r="1.85" fill="#0aa3e4" stroke="#303030" stroke-width="0.55"/>
<circle cx="489.90" cy="548.80" r="1.85" fill="#0aa3e4" stroke="#303030" stroke-width="0.55"/>
<circle cx="494.30" cy="550.90" r="1.85" fill="#0aa3e4" stroke="#303030" stroke-width="0.55"/>
<circle cx="438.70" cy="575.10" r="1.85" fill="#8c8c8c" stroke="#303030" stroke-width="0.55"/>
<circle cx="444.00" cy="584.20" r="1.85" fill="#8c8c8c" stroke="#303030" stroke-width="0.55"/>
<circle cx="565.10" cy="454.80" r="1.85" fill="#eb6c26" stroke="#303030" stroke-width="0.55"/>
<circle cx="591.70" cy="461.50" r="1.85" fill="#eb6c26" stroke="#303030" stroke-width="0.55"/>
<circle cx="602.50" cy="474.80" r="1.85" fill="#eb6c26" stroke="#303030" stroke-width="0.55"/>
<circle cx="561.90" cy="504.20" r="1.85" fill="#eb6c26" stroke="#303030" stroke-width="0.55"/>
<circle cx="610.80" cy="514.20" r="1.85" fill="#eb6c26" stroke="#303030" stroke-width="0.55"/>
<circle cx="639.50" cy="479.50" r="1.85" fill="#f4a46c" stroke="#303030" stroke-width="0.55"/>
<circle cx="620.30" cy="500.60" r="1.85" fill="#f4a46c" stroke="#303030" stroke-width="0.55"/>
<circle cx="614.10" cy="508.00" r="1.85" fill="#f4a46c" stroke="#303030" stroke-width="0.55"/>
<circle cx="616.40" cy="510.80" r="1.85" fill="#f4a46c" stroke="#303030" stroke-width="0.55"/>
<line x1="615.50" y1="493.50" x2="619.00" y2="498.60" stroke="#444" stroke-width="0.6" stroke-linecap="butt"/>
<line x1="615.50" y1="507.80" x2="630.50" y2="505.20" stroke="#444" stroke-width="0.6" stroke-linecap="butt"/>
<line x1="617.80" y1="511.40" x2="628.60" y2="513.60" stroke="#444" stroke-width="0.6" stroke-linecap="butt"/>
<text x="561.30" y="452.70" font-size="7.2" fill="#222" text-anchor="middle" stroke="#222" stroke-width="0.2"><tspan>A</tspan></text>
<text x="595.10" y="458.40" font-size="7.2" fill="#222" text-anchor="middle" stroke="#222" stroke-width="0.2"><tspan>B</tspan></text>
<text x="608.40" y="475.10" font-size="7.2" fill="#222" text-anchor="middle" stroke="#222" stroke-width="0.2"><tspan>D</tspan></text>
<text x="557.90" y="511.50" font-size="7.2" fill="#222" text-anchor="middle" stroke="#222" stroke-width="0.2"><tspan>C</tspan></text>
<text x="605.90" y="513.80" font-size="7.2" fill="#222" text-anchor="middle" stroke="#222" stroke-width="0.2"><tspan>E</tspan></text>
<text x="584.30" y="447.80" font-size="8.4" fill="#ed7d31" text-anchor="middle" stroke="#ed7d31" stroke-width="0.2"><tspan>Vertebrae</tspan></text>
<text x="644.40" y="478.30" font-size="7.2" fill="#222" text-anchor="middle" stroke="#222" stroke-width="0.2"><tspan>B</tspan></text>
<text x="614.10" y="492.90" font-size="7.2" fill="#222" text-anchor="middle" stroke="#222" stroke-width="0.2"><tspan>C</tspan></text>
<text x="633.80" y="507.20" font-size="7.2" fill="#222" text-anchor="middle" stroke="#222" stroke-width="0.2"><tspan>A</tspan></text>
<text x="631.50" y="516.80" font-size="7.2" fill="#222" text-anchor="middle" stroke="#222" stroke-width="0.2"><tspan>D,E</tspan></text>
<text x="638.50" y="470.70" font-size="8.4" fill="#f4b183" text-anchor="middle" stroke="#f4b183" stroke-width="0.2"><tspan>Ribs</tspan></text>
<text x="483.80" y="561.50" font-size="8.4" fill="#1ea7e1" text-anchor="start" stroke="#1ea7e1" stroke-width="0.2"><tspan>Concretion</tspan></text>
<text x="433.30" y="570.40" font-size="7.2" fill="#222" text-anchor="middle" stroke="#222" stroke-width="0.2"><tspan>Rim</tspan></text>
<text x="447.40" y="592.30" font-size="7.2" fill="#222" text-anchor="middle" stroke="#222" stroke-width="0.2"><tspan>Shale</tspan></text>
<line x1="408.40" y1="623.50" x2="656.10" y2="623.50" stroke="#000" stroke-width="1.75" stroke-linecap="butt"/>
<polyline points="641.40,613.50 656.90,623.50 641.40,633.50" fill="none" stroke="#000" stroke-width="1.75" stroke-miterlimit="10"/>
<text x="522.40" y="633.10" font-size="6.9" fill="#222" text-anchor="middle" font-style="italic" stroke="#222" stroke-width="0.2"><tspan dy="-2.48" font-size="4.69">34</tspan><tspan dy="2.48">&#8203;</tspan><tspan>S-enrichment with transition from reduced to oxidised sulfur species</tspan></text>
<text x="523.20" y="641.40" font-size="6.9" fill="#222" text-anchor="middle" font-style="italic" stroke="#222" stroke-width="0.2"><tspan>(pyrite to barite-bearing components)</tspan></text>
<line x1="77.5" y1="165.2" x2="77.5" y2="163.0" stroke="#333" stroke-width="1"/>
<line x1="108.5" y1="165.2" x2="108.5" y2="163.0" stroke="#333" stroke-width="1"/>
<line x1="140.5" y1="165.2" x2="140.5" y2="163.0" stroke="#333" stroke-width="1"/>
<line x1="171.5" y1="165.2" x2="171.5" y2="163.0" stroke="#333" stroke-width="1"/>
<line x1="202.5" y1="165.2" x2="202.5" y2="163.0" stroke="#333" stroke-width="1"/>
<line x1="233.5" y1="165.2" x2="233.5" y2="163.0" stroke="#333" stroke-width="1"/>
<line x1="265.5" y1="165.2" x2="265.5" y2="163.0" stroke="#333" stroke-width="1"/>
<line x1="46.5" y1="145.5" x2="48.7" y2="145.5" stroke="#333" stroke-width="1"/>
<line x1="46.5" y1="124.5" x2="48.7" y2="124.5" stroke="#333" stroke-width="1"/>
<line x1="46.5" y1="104.5" x2="48.7" y2="104.5" stroke="#333" stroke-width="1"/>
<line x1="46.5" y1="84.5" x2="48.7" y2="84.5" stroke="#333" stroke-width="1"/>
<line x1="46.5" y1="64.5" x2="48.7" y2="64.5" stroke="#333" stroke-width="1"/>
<line x1="46.5" y1="43.5" x2="48.7" y2="43.5" stroke="#333" stroke-width="1"/>
<line x1="46.5" y1="23.5" x2="48.7" y2="23.5" stroke="#333" stroke-width="1"/>
<rect x="46.5" y="3.6" width="250.00" height="161.60" fill="none" stroke="#404040" stroke-width="1.1"/>
<line x1="439.5" y1="165.0" x2="439.5" y2="162.8" stroke="#333" stroke-width="1"/>
<line x1="470.5" y1="165.0" x2="470.5" y2="162.8" stroke="#333" stroke-width="1"/>
<line x1="502.5" y1="165.0" x2="502.5" y2="162.8" stroke="#333" stroke-width="1"/>
<line x1="533.5" y1="165.0" x2="533.5" y2="162.8" stroke="#333" stroke-width="1"/>
<line x1="564.5" y1="165.0" x2="564.5" y2="162.8" stroke="#333" stroke-width="1"/>
<line x1="595.5" y1="165.0" x2="595.5" y2="162.8" stroke="#333" stroke-width="1"/>
<line x1="627.5" y1="165.0" x2="627.5" y2="162.8" stroke="#333" stroke-width="1"/>
<line x1="408.5" y1="141.5" x2="410.7" y2="141.5" stroke="#333" stroke-width="1"/>
<line x1="408.5" y1="118.5" x2="410.7" y2="118.5" stroke="#333" stroke-width="1"/>
<line x1="408.5" y1="95.5" x2="410.7" y2="95.5" stroke="#333" stroke-width="1"/>
<line x1="408.5" y1="72.5" x2="410.7" y2="72.5" stroke="#333" stroke-width="1"/>
<line x1="408.5" y1="49.5" x2="410.7" y2="49.5" stroke="#333" stroke-width="1"/>
<line x1="408.5" y1="26.5" x2="410.7" y2="26.5" stroke="#333" stroke-width="1"/>
<rect x="408.5" y="3.7" width="249.80" height="161.30" fill="none" stroke="#404040" stroke-width="1.1"/>
<line x1="82.5" y1="226.4" x2="82.5" y2="228.6" stroke="#333" stroke-width="1"/>
<line x1="117.5" y1="226.4" x2="117.5" y2="228.6" stroke="#333" stroke-width="1"/>
<line x1="153.5" y1="226.4" x2="153.5" y2="228.6" stroke="#333" stroke-width="1"/>
<line x1="189.5" y1="226.4" x2="189.5" y2="228.6" stroke="#333" stroke-width="1"/>
<line x1="225.5" y1="226.4" x2="225.5" y2="228.6" stroke="#333" stroke-width="1"/>
<line x1="261.5" y1="226.4" x2="261.5" y2="228.6" stroke="#333" stroke-width="1"/>
<line x1="46.4" y1="238.5" x2="48.6" y2="238.5" stroke="#333" stroke-width="1"/>
<line x1="46.4" y1="250.5" x2="48.6" y2="250.5" stroke="#333" stroke-width="1"/>
<line x1="46.4" y1="263.5" x2="48.6" y2="263.5" stroke="#333" stroke-width="1"/>
<line x1="46.4" y1="275.5" x2="48.6" y2="275.5" stroke="#333" stroke-width="1"/>
<line x1="46.4" y1="288.5" x2="48.6" y2="288.5" stroke="#333" stroke-width="1"/>
<line x1="46.4" y1="300.5" x2="48.6" y2="300.5" stroke="#333" stroke-width="1"/>
<line x1="46.4" y1="312.5" x2="48.6" y2="312.5" stroke="#333" stroke-width="1"/>
<line x1="46.4" y1="325.5" x2="48.6" y2="325.5" stroke="#333" stroke-width="1"/>
<line x1="46.4" y1="337.5" x2="48.6" y2="337.5" stroke="#333" stroke-width="1"/>
<line x1="46.4" y1="350.5" x2="48.6" y2="350.5" stroke="#333" stroke-width="1"/>
<line x1="46.4" y1="362.5" x2="48.6" y2="362.5" stroke="#333" stroke-width="1"/>
<line x1="46.4" y1="374.5" x2="48.6" y2="374.5" stroke="#333" stroke-width="1"/>
<rect x="46.4" y="226.4" width="250.10" height="161.20" fill="none" stroke="#404040" stroke-width="1.1"/>
<line x1="436.5" y1="226.4" x2="436.5" y2="228.6" stroke="#333" stroke-width="1"/>
<line x1="463.5" y1="226.4" x2="463.5" y2="228.6" stroke="#333" stroke-width="1"/>
<line x1="491.5" y1="226.4" x2="491.5" y2="228.6" stroke="#333" stroke-width="1"/>
<line x1="519.5" y1="226.4" x2="519.5" y2="228.6" stroke="#333" stroke-width="1"/>
<line x1="547.5" y1="226.4" x2="547.5" y2="228.6" stroke="#333" stroke-width="1"/>
<line x1="574.5" y1="226.4" x2="574.5" y2="228.6" stroke="#333" stroke-width="1"/>
<line x1="602.5" y1="226.4" x2="602.5" y2="228.6" stroke="#333" stroke-width="1"/>
<line x1="630.5" y1="226.4" x2="630.5" y2="228.6" stroke="#333" stroke-width="1"/>
<line x1="408.5" y1="238.5" x2="410.7" y2="238.5" stroke="#333" stroke-width="1"/>
<line x1="408.5" y1="251.5" x2="410.7" y2="251.5" stroke="#333" stroke-width="1"/>
<line x1="408.5" y1="263.5" x2="410.7" y2="263.5" stroke="#333" stroke-width="1"/>
<line x1="408.5" y1="275.5" x2="410.7" y2="275.5" stroke="#333" stroke-width="1"/>
<line x1="408.5" y1="288.5" x2="410.7" y2="288.5" stroke="#333" stroke-width="1"/>
<line x1="408.5" y1="300.5" x2="410.7" y2="300.5" stroke="#333" stroke-width="1"/>
<line x1="408.5" y1="312.5" x2="410.7" y2="312.5" stroke="#333" stroke-width="1"/>
<line x1="408.5" y1="325.5" x2="410.7" y2="325.5" stroke="#333" stroke-width="1"/>
<line x1="408.5" y1="337.5" x2="410.7" y2="337.5" stroke="#333" stroke-width="1"/>
<line x1="408.5" y1="350.5" x2="410.7" y2="350.5" stroke="#333" stroke-width="1"/>
<line x1="408.5" y1="362.5" x2="410.7" y2="362.5" stroke="#333" stroke-width="1"/>
<line x1="408.5" y1="374.5" x2="410.7" y2="374.5" stroke="#333" stroke-width="1"/>
<rect x="408.5" y="226.4" width="249.30" height="161.10" fill="none" stroke="#404040" stroke-width="1.1"/>
<line x1="74.5" y1="433.0" x2="74.5" y2="435.2" stroke="#333" stroke-width="1"/>
<line x1="102.5" y1="433.0" x2="102.5" y2="435.2" stroke="#333" stroke-width="1"/>
<line x1="130.5" y1="433.0" x2="130.5" y2="435.2" stroke="#333" stroke-width="1"/>
<line x1="157.5" y1="433.0" x2="157.5" y2="435.2" stroke="#333" stroke-width="1"/>
<line x1="185.5" y1="433.0" x2="185.5" y2="435.2" stroke="#333" stroke-width="1"/>
<line x1="213.5" y1="433.0" x2="213.5" y2="435.2" stroke="#333" stroke-width="1"/>
<line x1="241.5" y1="433.0" x2="241.5" y2="435.2" stroke="#333" stroke-width="1"/>
<line x1="268.5" y1="433.0" x2="268.5" y2="435.2" stroke="#333" stroke-width="1"/>
<line x1="46.8" y1="459.5" x2="49.0" y2="459.5" stroke="#333" stroke-width="1"/>
<line x1="46.8" y1="486.5" x2="49.0" y2="486.5" stroke="#333" stroke-width="1"/>
<line x1="46.8" y1="513.5" x2="49.0" y2="513.5" stroke="#333" stroke-width="1"/>
<line x1="46.8" y1="540.5" x2="49.0" y2="540.5" stroke="#333" stroke-width="1"/>
<line x1="46.8" y1="567.5" x2="49.0" y2="567.5" stroke="#333" stroke-width="1"/>
<rect x="46.8" y="433.0" width="249.80" height="161.20" fill="none" stroke="#404040" stroke-width="1.1"/>
<line x1="435.5" y1="593.8" x2="435.5" y2="591.5999999999999" stroke="#333" stroke-width="1"/>
<line x1="463.5" y1="593.8" x2="463.5" y2="591.5999999999999" stroke="#333" stroke-width="1"/>
<line x1="490.5" y1="593.8" x2="490.5" y2="591.5999999999999" stroke="#333" stroke-width="1"/>
<line x1="518.5" y1="593.8" x2="518.5" y2="591.5999999999999" stroke="#333" stroke-width="1"/>
<line x1="574.5" y1="593.8" x2="574.5" y2="591.5999999999999" stroke="#333" stroke-width="1"/>
<line x1="602.5" y1="593.8" x2="602.5" y2="591.5999999999999" stroke="#333" stroke-width="1"/>
<line x1="629.5" y1="593.8" x2="629.5" y2="591.5999999999999" stroke="#333" stroke-width="1"/>
<line x1="408.5" y1="571.5" x2="410.7" y2="571.5" stroke="#333" stroke-width="1"/>
<line x1="408.5" y1="547.5" x2="410.7" y2="547.5" stroke="#333" stroke-width="1"/>
<line x1="408.5" y1="524.5" x2="410.7" y2="524.5" stroke="#333" stroke-width="1"/>
<line x1="408.5" y1="501.5" x2="410.7" y2="501.5" stroke="#333" stroke-width="1"/>
<line x1="408.5" y1="478.5" x2="410.7" y2="478.5" stroke="#333" stroke-width="1"/>
<line x1="408.5" y1="455.5" x2="410.7" y2="455.5" stroke="#333" stroke-width="1"/>
<rect x="408.5" y="433.2" width="249.90" height="161.00" fill="none" stroke="#404040" stroke-width="1.1"/>
</svg>
</body></html>
